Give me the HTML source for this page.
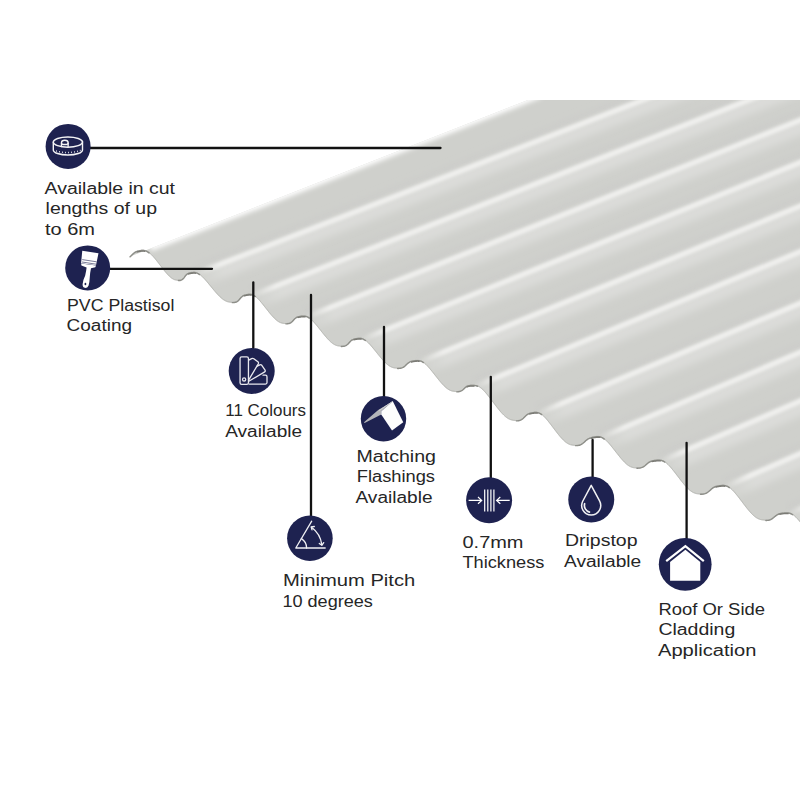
<!DOCTYPE html>
<html><head><meta charset="utf-8"><title>Corrugated PVC sheet</title>
<style>html,body{margin:0;padding:0;background:#fff;width:800px;height:800px;overflow:hidden} svg{display:block}</style>
</head><body>
<svg width="800" height="800" viewBox="0 0 800 800">
<defs>
<filter id="b1" x="-5%" y="-50%" width="110%" height="200%"><feGaussianBlur stdDeviation="1.7"/></filter>
<filter id="b4" x="-5%" y="-50%" width="110%" height="200%"><feGaussianBlur stdDeviation="3.5"/></filter>
<filter id="b3" x="-5%" y="-50%" width="110%" height="200%"><feGaussianBlur stdDeviation="2.6"/></filter>
<filter id="b2" x="-5%" y="-50%" width="110%" height="200%"><feGaussianBlur stdDeviation="2"/></filter>
<linearGradient id="g1" gradientUnits="userSpaceOnUse" x1="195.82" y1="0" x2="219.82" y2="0"><stop offset="0" stop-color="#efefed" stop-opacity="0"/><stop offset="1" stop-color="#efefed"/></linearGradient>
<linearGradient id="h1" gradientUnits="userSpaceOnUse" x1="195.82" y1="0" x2="223.82" y2="0"><stop offset="0" stop-color="#dbdcd9" stop-opacity="0"/><stop offset="1" stop-color="#dbdcd9"/></linearGradient>
<linearGradient id="g2" gradientUnits="userSpaceOnUse" x1="251.72" y1="0" x2="275.72" y2="0"><stop offset="0" stop-color="#efefed" stop-opacity="0"/><stop offset="1" stop-color="#efefed"/></linearGradient>
<linearGradient id="h2" gradientUnits="userSpaceOnUse" x1="251.72" y1="0" x2="279.72" y2="0"><stop offset="0" stop-color="#dbdcd9" stop-opacity="0"/><stop offset="1" stop-color="#dbdcd9"/></linearGradient>
<linearGradient id="g3" gradientUnits="userSpaceOnUse" x1="305.55" y1="0" x2="329.55" y2="0"><stop offset="0" stop-color="#efefed" stop-opacity="0"/><stop offset="1" stop-color="#efefed"/></linearGradient>
<linearGradient id="h3" gradientUnits="userSpaceOnUse" x1="305.55" y1="0" x2="333.55" y2="0"><stop offset="0" stop-color="#dbdcd9" stop-opacity="0"/><stop offset="1" stop-color="#dbdcd9"/></linearGradient>
<linearGradient id="g4" gradientUnits="userSpaceOnUse" x1="361.59" y1="0" x2="385.59" y2="0"><stop offset="0" stop-color="#efefed" stop-opacity="0"/><stop offset="1" stop-color="#efefed"/></linearGradient>
<linearGradient id="h4" gradientUnits="userSpaceOnUse" x1="361.59" y1="0" x2="389.59" y2="0"><stop offset="0" stop-color="#dbdcd9" stop-opacity="0"/><stop offset="1" stop-color="#dbdcd9"/></linearGradient>
<linearGradient id="g5" gradientUnits="userSpaceOnUse" x1="419.52" y1="0" x2="443.52" y2="0"><stop offset="0" stop-color="#efefed" stop-opacity="0"/><stop offset="1" stop-color="#efefed"/></linearGradient>
<linearGradient id="h5" gradientUnits="userSpaceOnUse" x1="419.52" y1="0" x2="447.52" y2="0"><stop offset="0" stop-color="#dbdcd9" stop-opacity="0"/><stop offset="1" stop-color="#dbdcd9"/></linearGradient>
<linearGradient id="g6" gradientUnits="userSpaceOnUse" x1="474.51" y1="0" x2="498.51" y2="0"><stop offset="0" stop-color="#efefed" stop-opacity="0"/><stop offset="1" stop-color="#efefed"/></linearGradient>
<linearGradient id="h6" gradientUnits="userSpaceOnUse" x1="474.51" y1="0" x2="502.51" y2="0"><stop offset="0" stop-color="#dbdcd9" stop-opacity="0"/><stop offset="1" stop-color="#dbdcd9"/></linearGradient>
<linearGradient id="g7" gradientUnits="userSpaceOnUse" x1="537.76" y1="0" x2="561.76" y2="0"><stop offset="0" stop-color="#efefed" stop-opacity="0"/><stop offset="1" stop-color="#efefed"/></linearGradient>
<linearGradient id="h7" gradientUnits="userSpaceOnUse" x1="537.76" y1="0" x2="565.76" y2="0"><stop offset="0" stop-color="#dbdcd9" stop-opacity="0"/><stop offset="1" stop-color="#dbdcd9"/></linearGradient>
<linearGradient id="g8" gradientUnits="userSpaceOnUse" x1="599.91" y1="0" x2="623.91" y2="0"><stop offset="0" stop-color="#efefed" stop-opacity="0"/><stop offset="1" stop-color="#efefed"/></linearGradient>
<linearGradient id="h8" gradientUnits="userSpaceOnUse" x1="599.91" y1="0" x2="627.91" y2="0"><stop offset="0" stop-color="#dbdcd9" stop-opacity="0"/><stop offset="1" stop-color="#dbdcd9"/></linearGradient>
<linearGradient id="g9" gradientUnits="userSpaceOnUse" x1="660.64" y1="0" x2="684.64" y2="0"><stop offset="0" stop-color="#efefed" stop-opacity="0"/><stop offset="1" stop-color="#efefed"/></linearGradient>
<linearGradient id="h9" gradientUnits="userSpaceOnUse" x1="660.64" y1="0" x2="688.64" y2="0"><stop offset="0" stop-color="#dbdcd9" stop-opacity="0"/><stop offset="1" stop-color="#dbdcd9"/></linearGradient>
<linearGradient id="g10" gradientUnits="userSpaceOnUse" x1="725.03" y1="0" x2="749.03" y2="0"><stop offset="0" stop-color="#efefed" stop-opacity="0"/><stop offset="1" stop-color="#efefed"/></linearGradient>
<linearGradient id="h10" gradientUnits="userSpaceOnUse" x1="725.03" y1="0" x2="753.03" y2="0"><stop offset="0" stop-color="#dbdcd9" stop-opacity="0"/><stop offset="1" stop-color="#dbdcd9"/></linearGradient>
<linearGradient id="g11" gradientUnits="userSpaceOnUse" x1="788.42" y1="0" x2="812.42" y2="0"><stop offset="0" stop-color="#efefed" stop-opacity="0"/><stop offset="1" stop-color="#efefed"/></linearGradient>
<linearGradient id="h11" gradientUnits="userSpaceOnUse" x1="788.42" y1="0" x2="816.42" y2="0"><stop offset="0" stop-color="#dbdcd9" stop-opacity="0"/><stop offset="1" stop-color="#dbdcd9"/></linearGradient>
<clipPath id="sheet"><path d="M130.00,256.55 L130.15,256.43 L130.30,256.31 L130.44,256.18 L130.59,256.05 L130.73,255.92 L130.88,255.79 L131.02,255.65 L131.16,255.52 L131.30,255.38 L131.45,255.24 L131.59,255.10 L131.73,254.95 L131.87,254.81 L132.01,254.67 L132.15,254.53 L132.29,254.38 L132.43,254.24 L132.58,254.10 L132.72,253.96 L132.86,253.82 L133.00,253.68 L133.15,253.55 L133.29,253.42 L133.44,253.29 L133.58,253.16 L133.73,253.03 L133.88,252.91 L134.03,252.79 L134.18,252.68 L134.33,252.56 L134.48,252.45 L134.64,252.35 L134.79,252.24 L134.95,252.15 L135.10,252.05 L135.26,251.96 L135.42,251.87 L135.58,251.78 L135.74,251.70 L135.91,251.63 L136.07,251.55 L136.24,251.48 L136.40,251.41 L136.57,251.35 L136.74,251.28 L136.91,251.22 L137.08,251.17 L137.25,251.11 L137.42,251.06 L137.60,251.01 L137.77,250.96 L137.94,250.92 L138.12,250.87 L138.29,250.83 L138.47,250.79 L138.65,250.75 L138.82,250.71 L139.00,250.67 L139.18,250.64 L139.36,250.60 L139.53,250.57 L139.71,250.53 L139.89,250.50 L140.07,250.47 L140.25,250.44 L140.43,250.40 L140.61,250.37 L140.79,250.35 L140.97,250.32 L141.15,250.29 L141.33,250.27 L141.52,250.24 L141.70,250.22 L141.88,250.20 L142.07,250.19 L142.25,250.17 L142.44,250.16 L142.63,250.15 L142.81,250.15 L143.02,250.16 L143.25,250.17 L143.48,250.20 L143.71,250.22 L143.95,250.26 L144.19,250.30 L144.43,250.34 L144.67,250.39 L144.91,250.45 L145.16,250.52 L145.41,250.60 L145.66,250.68 L145.91,250.78 L146.17,250.88 L146.43,250.99 L146.70,251.11 L146.96,251.25 L147.24,251.39 L147.51,251.55 L147.79,251.72 L148.07,251.90 L148.36,252.09 L148.65,252.29 L148.95,252.51 L149.24,252.74 L149.55,252.98 L149.86,253.23 L150.17,253.50 L150.48,253.78 L150.80,254.08 L151.13,254.39 L151.46,254.70 L151.79,255.04 L152.12,255.38 L152.46,255.74 L152.81,256.11 L153.16,256.49 L153.51,256.88 L153.86,257.29 L154.22,257.70 L154.58,258.12 L154.94,258.56 L155.31,259.00 L155.68,259.45 L156.05,259.91 L156.42,260.37 L156.80,260.84 L157.18,261.32 L157.55,261.80 L157.93,262.29 L158.31,262.78 L158.69,263.27 L159.08,263.77 L159.46,264.27 L159.84,264.77 L160.22,265.27 L160.60,265.76 L160.98,266.26 L161.36,266.75 L161.73,267.24 L162.11,267.73 L162.48,268.21 L162.85,268.69 L163.22,269.16 L163.59,269.63 L163.95,270.08 L164.31,270.54 L164.66,270.98 L165.02,271.41 L165.37,271.84 L165.71,272.25 L166.06,272.65 L166.39,273.05 L166.73,273.43 L167.06,273.81 L167.38,274.17 L167.70,274.52 L168.02,274.85 L168.33,275.18 L168.64,275.49 L168.94,275.79 L169.23,276.08 L169.53,276.36 L169.82,276.63 L170.10,276.88 L170.38,277.12 L170.65,277.35 L170.92,277.57 L171.19,277.77 L171.45,277.97 L171.70,278.15 L171.95,278.33 L172.20,278.49 L172.45,278.64 L172.69,278.79 L172.92,278.92 L173.15,279.05 L173.38,279.16 L173.61,279.27 L173.83,279.37 L174.05,279.46 L174.26,279.55 L174.47,279.63 L174.68,279.70 L174.89,279.77 L175.09,279.83 L175.29,279.88 L175.49,279.94 L175.69,279.98 L175.88,280.02 L176.08,280.06 L176.27,280.09 L176.45,280.12 L176.64,280.15 L176.82,280.17 L177.00,280.19 L177.18,280.21 L177.36,280.23 L177.54,280.24 L177.71,280.25 L177.89,280.26 L178.06,280.27 L178.23,280.27 L178.40,280.27 L178.56,280.27 L178.73,280.27 L178.89,280.26 L179.05,280.26 L179.22,280.25 L179.37,280.23 L179.53,280.22 L179.69,280.20 L179.84,280.18 L179.99,280.16 L180.15,280.14 L180.29,280.11 L180.44,280.08 L180.59,280.04 L180.73,280.01 L180.87,279.97 L181.02,279.92 L181.15,279.87 L181.29,279.82 L181.43,279.76 L181.56,279.70 L181.69,279.64 L181.82,279.57 L181.95,279.50 L182.08,279.42 L182.20,279.34 L182.32,279.26 L182.44,279.17 L182.56,279.08 L182.68,278.98 L182.80,278.88 L182.91,278.77 L183.02,278.66 L183.14,278.55 L183.25,278.44 L183.36,278.32 L183.46,278.19 L183.57,278.07 L183.68,277.94 L183.78,277.81 L183.88,277.68 L183.99,277.54 L184.09,277.40 L184.19,277.27 L184.29,277.13 L184.39,276.99 L184.49,276.84 L184.59,276.70 L184.69,276.56 L184.80,276.42 L184.90,276.28 L185.00,276.14 L185.10,276.00 L185.20,275.86 L185.31,275.72 L185.41,275.59 L185.52,275.45 L185.62,275.32 L185.73,275.19 L185.84,275.07 L185.95,274.94 L186.06,274.82 L186.17,274.71 L186.28,274.59 L186.40,274.48 L186.52,274.37 L186.63,274.27 L186.75,274.17 L186.88,274.07 L187.00,273.98 L187.12,273.89 L187.25,273.81 L187.38,273.72 L187.51,273.65 L187.64,273.57 L187.78,273.50 L187.91,273.43 L188.05,273.37 L188.19,273.30 L188.33,273.24 L188.47,273.19 L188.62,273.13 L188.76,273.08 L188.91,273.03 L189.06,272.99 L189.21,272.94 L189.36,272.90 L189.52,272.86 L189.67,272.82 L189.83,272.78 L189.98,272.74 L190.14,272.71 L190.30,272.68 L190.46,272.64 L190.63,272.61 L190.79,272.58 L190.96,272.55 L191.12,272.52 L191.29,272.49 L191.46,272.46 L191.63,272.44 L191.80,272.41 L191.98,272.39 L192.15,272.36 L192.33,272.34 L192.51,272.32 L192.69,272.30 L192.87,272.29 L193.06,272.27 L193.25,272.26 L193.43,272.25 L193.63,272.25 L193.82,272.24 L194.02,272.25 L194.22,272.25 L194.42,272.26 L194.63,272.28 L194.83,272.30 L195.05,272.33 L195.26,272.36 L195.48,272.40 L195.70,272.45 L195.93,272.51 L196.16,272.57 L196.39,272.64 L196.63,272.72 L196.88,272.81 L197.12,272.91 L197.38,273.02 L197.63,273.15 L197.89,273.28 L198.16,273.42 L198.43,273.58 L198.71,273.74 L198.99,273.92 L199.27,274.11 L199.56,274.32 L199.86,274.54 L200.16,274.77 L200.47,275.01 L200.78,275.27 L201.10,275.54 L201.42,275.82 L201.75,276.12 L202.08,276.43 L202.42,276.75 L202.77,277.09 L203.11,277.44 L203.47,277.80 L203.83,278.17 L204.19,278.56 L204.56,278.95 L204.93,279.36 L205.30,279.78 L205.68,280.20 L206.06,280.64 L206.45,281.09 L206.84,281.54 L207.23,282.00 L207.63,282.47 L208.03,282.95 L208.43,283.43 L208.83,283.92 L209.23,284.41 L209.64,284.90 L210.04,285.40 L210.45,285.90 L210.86,286.40 L211.27,286.90 L211.68,287.40 L212.09,287.90 L212.50,288.40 L212.90,288.90 L213.31,289.39 L213.72,289.88 L214.12,290.36 L214.52,290.84 L214.92,291.31 L215.32,291.78 L215.72,292.24 L216.11,292.69 L216.50,293.13 L216.89,293.56 L217.27,293.99 L217.65,294.40 L218.03,294.80 L218.40,295.20 L218.77,295.58 L219.13,295.95 L219.49,296.31 L219.85,296.66 L220.20,296.99 L220.55,297.32 L220.89,297.63 L221.23,297.93 L221.57,298.21 L221.90,298.49 L222.22,298.75 L222.54,299.00 L222.86,299.24 L223.17,299.47 L223.48,299.68 L223.78,299.88 L224.08,300.08 L224.38,300.26 L224.67,300.43 L224.96,300.59 L225.24,300.74 L225.52,300.88 L225.79,301.01 L226.06,301.13 L226.33,301.25 L226.60,301.35 L226.86,301.45 L227.11,301.54 L227.37,301.63 L227.62,301.70 L227.87,301.77 L228.11,301.84 L228.36,301.90 L228.60,301.95 L228.84,302.00 L229.07,302.04 L229.30,302.08 L229.53,302.12 L229.76,302.15 L229.99,302.18 L230.21,302.21 L230.43,302.23 L230.65,302.25 L230.87,302.27 L231.09,302.28 L231.30,302.29 L231.51,302.30 L231.72,302.31 L231.93,302.32 L232.14,302.32 L232.34,302.32 L232.54,302.32 L232.74,302.32 L232.94,302.31 L233.14,302.31 L233.33,302.30 L233.52,302.28 L233.71,302.27 L233.90,302.25 L234.09,302.23 L234.28,302.21 L234.46,302.18 L234.64,302.16 L234.82,302.12 L234.99,302.09 L235.17,302.05 L235.34,302.01 L235.51,301.96 L235.68,301.91 L235.85,301.86 L236.01,301.80 L236.17,301.74 L236.33,301.67 L236.49,301.60 L236.64,301.53 L236.80,301.45 L236.95,301.37 L237.10,301.28 L237.24,301.19 L237.39,301.10 L237.53,301.00 L237.67,300.90 L237.81,300.79 L237.95,300.68 L238.08,300.56 L238.22,300.45 L238.35,300.33 L238.48,300.20 L238.61,300.07 L238.73,299.94 L238.86,299.81 L238.98,299.68 L239.11,299.54 L239.23,299.40 L239.35,299.26 L239.47,299.12 L239.59,298.98 L239.71,298.83 L239.83,298.69 L239.95,298.55 L240.07,298.40 L240.19,298.26 L240.31,298.12 L240.43,297.98 L240.55,297.84 L240.67,297.70 L240.79,297.56 L240.91,297.43 L241.03,297.30 L241.15,297.17 L241.28,297.04 L241.40,296.92 L241.53,296.80 L241.65,296.68 L241.78,296.56 L241.91,296.45 L242.04,296.34 L242.17,296.24 L242.30,296.14 L242.43,296.04 L242.57,295.95 L242.70,295.86 L242.84,295.77 L242.98,295.69 L243.12,295.61 L243.26,295.53 L243.41,295.46 L243.55,295.39 L243.70,295.32 L243.84,295.26 L243.99,295.20 L244.14,295.14 L244.29,295.08 L244.44,295.03 L244.60,294.98 L244.75,294.93 L244.91,294.88 L245.06,294.84 L245.22,294.79 L245.38,294.75 L245.54,294.71 L245.70,294.67 L245.86,294.63 L246.02,294.59 L246.18,294.56 L246.35,294.52 L246.51,294.49 L246.68,294.45 L246.85,294.42 L247.01,294.39 L247.18,294.35 L247.35,294.32 L247.52,294.29 L247.70,294.26 L247.87,294.24 L248.04,294.21 L248.22,294.18 L248.40,294.16 L248.58,294.14 L248.76,294.12 L248.94,294.11 L249.12,294.09 L249.31,294.08 L249.50,294.08 L249.69,294.07 L249.88,294.07 L250.08,294.08 L250.28,294.09 L250.48,294.11 L250.68,294.13 L250.89,294.16 L251.10,294.20 L251.31,294.24 L251.53,294.29 L251.75,294.35 L251.98,294.42 L252.20,294.50 L252.44,294.58 L252.67,294.68 L252.92,294.79 L253.16,294.91 L253.41,295.04 L253.66,295.18 L253.92,295.33 L254.19,295.49 L254.46,295.67 L254.73,295.86 L255.01,296.06 L255.29,296.28 L255.58,296.51 L255.88,296.75 L256.17,297.01 L256.48,297.28 L256.79,297.56 L257.10,297.86 L257.42,298.16 L257.74,298.49 L258.07,298.82 L258.41,299.17 L258.74,299.53 L259.09,299.90 L259.43,300.29 L259.79,300.68 L260.14,301.09 L260.50,301.50 L260.86,301.93 L261.23,302.37 L261.60,302.81 L261.97,303.27 L262.35,303.73 L262.73,304.19 L263.11,304.67 L263.49,305.15 L263.87,305.63 L264.26,306.12 L264.65,306.61 L265.04,307.11 L265.43,307.60 L265.81,308.10 L266.21,308.60 L266.60,309.10 L266.99,309.59 L267.37,310.08 L267.76,310.58 L268.15,311.06 L268.54,311.55 L268.92,312.02 L269.30,312.50 L269.68,312.96 L270.06,313.42 L270.44,313.88 L270.81,314.32 L271.18,314.75 L271.54,315.18 L271.91,315.60 L272.27,316.00 L272.62,316.40 L272.97,316.78 L273.32,317.16 L273.67,317.52 L274.01,317.87 L274.34,318.21 L274.67,318.53 L275.00,318.85 L275.32,319.15 L275.64,319.44 L275.96,319.72 L276.27,319.98 L276.57,320.24 L276.87,320.48 L277.17,320.71 L277.46,320.92 L277.75,321.13 L278.03,321.32 L278.31,321.50 L278.59,321.68 L278.86,321.84 L279.13,321.99 L279.39,322.13 L279.65,322.26 L279.91,322.39 L280.16,322.50 L280.41,322.61 L280.65,322.70 L280.90,322.79 L281.14,322.88 L281.38,322.95 L281.61,323.02 L281.84,323.09 L282.07,323.14 L282.30,323.20 L282.52,323.24 L282.75,323.29 L282.97,323.33 L283.18,323.36 L283.40,323.39 L283.61,323.42 L283.83,323.44 L284.04,323.46 L284.25,323.48 L284.45,323.50 L284.66,323.51 L284.86,323.52 L285.06,323.53 L285.26,323.54 L285.46,323.54 L285.66,323.54 L285.86,323.54 L286.05,323.54 L286.25,323.54 L286.44,323.54 L286.63,323.53 L286.81,323.52 L287.00,323.51 L287.19,323.49 L287.37,323.48 L287.55,323.46 L287.73,323.44 L287.91,323.42 L288.09,323.39 L288.26,323.36 L288.44,323.33 L288.61,323.29 L288.78,323.25 L288.95,323.21 L289.11,323.17 L289.28,323.12 L289.44,323.06 L289.60,323.01 L289.76,322.94 L289.92,322.88 L290.07,322.81 L290.23,322.74 L290.38,322.66 L290.53,322.58 L290.68,322.49 L290.82,322.40 L290.97,322.31 L291.11,322.21 L291.25,322.11 L291.39,322.00 L291.53,321.90 L291.66,321.78 L291.80,321.67 L291.93,321.55 L292.06,321.43 L292.19,321.30 L292.32,321.17 L292.45,321.04 L292.58,320.91 L292.70,320.78 L292.83,320.64 L292.96,320.51 L293.08,320.37 L293.20,320.23 L293.33,320.09 L293.45,319.95 L293.58,319.81 L293.70,319.68 L293.83,319.54 L293.95,319.40 L294.07,319.26 L294.20,319.13 L294.33,319.00 L294.45,318.87 L294.58,318.74 L294.71,318.61 L294.84,318.49 L294.97,318.37 L295.10,318.25 L295.23,318.14 L295.37,318.03 L295.50,317.92 L295.64,317.82 L295.78,317.72 L295.92,317.62 L296.06,317.53 L296.20,317.44 L296.34,317.35 L296.49,317.27 L296.64,317.19 L296.79,317.12 L296.94,317.05 L297.09,316.98 L297.24,316.91 L297.39,316.85 L297.55,316.79 L297.71,316.74 L297.87,316.69 L298.03,316.64 L298.19,316.59 L298.35,316.54 L298.51,316.50 L298.68,316.46 L298.85,316.42 L299.01,316.39 L299.18,316.35 L299.35,316.32 L299.52,316.28 L299.69,316.25 L299.87,316.22 L300.04,316.19 L300.22,316.16 L300.39,316.14 L300.57,316.11 L300.75,316.08 L300.92,316.06 L301.10,316.03 L301.28,316.01 L301.47,315.98 L301.65,315.96 L301.83,315.94 L302.02,315.92 L302.20,315.90 L302.39,315.89 L302.58,315.87 L302.77,315.86 L302.97,315.85 L303.16,315.84 L303.36,315.84 L303.56,315.83 L303.76,315.84 L303.96,315.84 L304.17,315.85 L304.37,315.87 L304.58,315.89 L304.80,315.91 L305.02,315.95 L305.24,315.99 L305.46,316.03 L305.69,316.09 L305.92,316.15 L306.15,316.22 L306.39,316.30 L306.63,316.39 L306.87,316.48 L307.12,316.59 L307.38,316.71 L307.64,316.84 L307.90,316.98 L308.17,317.14 L308.44,317.30 L308.72,317.48 L309.00,317.67 L309.29,317.87 L309.58,318.09 L309.88,318.32 L310.18,318.56 L310.49,318.82 L310.80,319.08 L311.12,319.37 L311.44,319.66 L311.77,319.97 L312.10,320.30 L312.44,320.63 L312.78,320.98 L313.13,321.35 L313.48,321.72 L313.84,322.11 L314.20,322.50 L314.56,322.91 L314.93,323.33 L315.30,323.77 L315.68,324.21 L316.06,324.66 L316.44,325.11 L316.83,325.58 L317.22,326.05 L317.61,326.54 L318.00,327.02 L318.40,327.51 L318.80,328.01 L319.19,328.51 L319.59,329.01 L320.00,329.52 L320.40,330.03 L320.80,330.54 L321.20,331.04 L321.60,331.55 L322.00,332.06 L322.41,332.56 L322.81,333.06 L323.20,333.56 L323.60,334.05 L324.00,334.53 L324.39,335.01 L324.78,335.49 L325.17,335.95 L325.55,336.41 L325.94,336.86 L326.32,337.30 L326.69,337.73 L327.06,338.15 L327.43,338.56 L327.80,338.96 L328.16,339.35 L328.52,339.73 L328.87,340.10 L329.22,340.45 L329.56,340.79 L329.90,341.12 L330.24,341.44 L330.57,341.74 L330.90,342.03 L331.22,342.31 L331.54,342.58 L331.85,342.83 L332.16,343.07 L332.46,343.30 L332.76,343.52 L333.06,343.73 L333.35,343.92 L333.63,344.10 L333.92,344.28 L334.20,344.44 L334.47,344.59 L334.74,344.73 L335.01,344.86 L335.27,344.99 L335.53,345.10 L335.79,345.21 L336.04,345.30 L336.29,345.39 L336.54,345.48 L336.78,345.55 L337.02,345.62 L337.26,345.69 L337.50,345.74 L337.73,345.80 L337.96,345.84 L338.19,345.89 L338.42,345.92 L338.64,345.96 L338.87,345.99 L339.09,346.02 L339.30,346.04 L339.52,346.06 L339.74,346.08 L339.95,346.10 L340.16,346.11 L340.37,346.12 L340.58,346.13 L340.79,346.14 L340.99,346.14 L341.19,346.14 L341.40,346.14 L341.60,346.14 L341.79,346.14 L341.99,346.13 L342.19,346.12 L342.38,346.11 L342.57,346.10 L342.76,346.09 L342.95,346.07 L343.14,346.05 L343.32,346.03 L343.51,346.00 L343.69,345.98 L343.87,345.95 L344.04,345.91 L344.22,345.87 L344.40,345.83 L344.57,345.79 L344.74,345.74 L344.91,345.69 L345.07,345.63 L345.24,345.57 L345.40,345.51 L345.56,345.44 L345.72,345.37 L345.88,345.29 L346.03,345.21 L346.18,345.13 L346.33,345.04 L346.48,344.95 L346.63,344.85 L346.78,344.75 L346.92,344.64 L347.06,344.53 L347.20,344.42 L347.34,344.30 L347.48,344.18 L347.61,344.06 L347.75,343.93 L347.88,343.81 L348.01,343.67 L348.14,343.54 L348.27,343.41 L348.40,343.27 L348.53,343.13 L348.66,342.99 L348.79,342.85 L348.91,342.71 L349.04,342.56 L349.17,342.42 L349.29,342.28 L349.42,342.14 L349.55,341.99 L349.67,341.85 L349.80,341.72 L349.93,341.58 L350.06,341.44 L350.19,341.31 L350.32,341.18 L350.45,341.05 L350.58,340.92 L350.71,340.80 L350.85,340.68 L350.98,340.56 L351.12,340.45 L351.25,340.34 L351.39,340.23 L351.53,340.13 L351.68,340.03 L351.82,339.94 L351.96,339.84 L352.11,339.76 L352.26,339.67 L352.41,339.59 L352.56,339.51 L352.71,339.44 L352.86,339.37 L353.02,339.30 L353.18,339.24 L353.33,339.18 L353.49,339.12 L353.66,339.06 L353.82,339.01 L353.98,338.96 L354.15,338.91 L354.31,338.87 L354.48,338.82 L354.65,338.78 L354.82,338.74 L354.99,338.70 L355.16,338.66 L355.33,338.63 L355.50,338.59 L355.68,338.56 L355.85,338.52 L356.03,338.49 L356.21,338.46 L356.39,338.43 L356.57,338.39 L356.75,338.36 L356.93,338.34 L357.11,338.31 L357.29,338.28 L357.48,338.25 L357.66,338.23 L357.85,338.20 L358.04,338.18 L358.23,338.16 L358.42,338.14 L358.61,338.12 L358.81,338.11 L359.01,338.10 L359.20,338.09 L359.40,338.08 L359.61,338.08 L359.81,338.08 L360.02,338.09 L360.23,338.10 L360.45,338.12 L360.66,338.14 L360.88,338.17 L361.10,338.21 L361.33,338.25 L361.56,338.31 L361.79,338.37 L362.03,338.43 L362.27,338.51 L362.51,338.60 L362.76,338.70 L363.02,338.80 L363.27,338.92 L363.54,339.05 L363.80,339.19 L364.08,339.35 L364.35,339.51 L364.63,339.69 L364.92,339.88 L365.21,340.09 L365.51,340.31 L365.81,340.54 L366.12,340.78 L366.43,341.04 L366.75,341.31 L367.07,341.60 L367.40,341.90 L367.73,342.21 L368.07,342.54 L368.41,342.87 L368.76,343.23 L369.11,343.59 L369.47,343.97 L369.83,344.36 L370.19,344.76 L370.56,345.17 L370.94,345.60 L371.32,346.03 L371.70,346.47 L372.08,346.93 L372.47,347.39 L372.86,347.86 L373.26,348.33 L373.66,348.82 L374.05,349.31 L374.46,349.80 L374.86,350.30 L375.26,350.80 L375.67,351.31 L376.08,351.81 L376.48,352.32 L376.89,352.83 L377.30,353.34 L377.71,353.85 L378.11,354.35 L378.52,354.85 L378.92,355.35 L379.33,355.85 L379.73,356.34 L380.13,356.82 L380.53,357.30 L380.92,357.77 L381.32,358.23 L381.71,358.69 L382.10,359.14 L382.48,359.57 L382.86,360.00 L383.24,360.42 L383.61,360.83 L383.98,361.22 L384.35,361.61 L384.71,361.98 L385.07,362.34 L385.43,362.69 L385.78,363.02 L386.12,363.35 L386.46,363.66 L386.80,363.95 L387.13,364.24 L387.46,364.51 L387.78,364.77 L388.10,365.02 L388.42,365.26 L388.73,365.48 L389.03,365.69 L389.33,365.89 L389.63,366.08 L389.92,366.26 L390.21,366.42 L390.50,366.58 L390.78,366.73 L391.06,366.86 L391.33,366.99 L391.60,367.10 L391.87,367.21 L392.13,367.31 L392.39,367.40 L392.65,367.49 L392.91,367.57 L393.16,367.64 L393.41,367.70 L393.66,367.76 L393.90,367.81 L394.14,367.86 L394.38,367.90 L394.62,367.94 L394.86,367.98 L395.09,368.01 L395.33,368.04 L395.56,368.06 L395.79,368.08 L396.01,368.10 L396.24,368.11 L396.46,368.12 L396.69,368.13 L396.91,368.14 L397.13,368.15 L397.34,368.15 L397.56,368.15 L397.78,368.15 L397.99,368.15 L398.20,368.15 L398.41,368.14 L398.62,368.14 L398.83,368.13 L399.04,368.11 L399.24,368.10 L399.45,368.08 L399.65,368.06 L399.85,368.04 L400.05,368.02 L400.24,367.99 L400.44,367.96 L400.63,367.93 L400.83,367.89 L401.02,367.86 L401.21,367.81 L401.39,367.77 L401.58,367.72 L401.76,367.66 L401.94,367.61 L402.12,367.54 L402.30,367.48 L402.47,367.41 L402.65,367.33 L402.82,367.26 L402.99,367.17 L403.16,367.09 L403.32,367.00 L403.49,366.90 L403.65,366.80 L403.81,366.70 L403.97,366.60 L404.13,366.49 L404.28,366.37 L404.44,366.25 L404.59,366.13 L404.74,366.01 L404.89,365.88 L405.04,365.75 L405.19,365.62 L405.34,365.49 L405.49,365.35 L405.63,365.22 L405.78,365.08 L405.92,364.94 L406.06,364.80 L406.21,364.65 L406.35,364.51 L406.49,364.37 L406.64,364.23 L406.78,364.09 L406.92,363.95 L407.07,363.81 L407.21,363.67 L407.36,363.54 L407.50,363.41 L407.65,363.28 L407.79,363.15 L407.94,363.02 L408.09,362.90 L408.24,362.78 L408.39,362.66 L408.54,362.55 L408.70,362.44 L408.85,362.33 L409.01,362.23 L409.16,362.13 L409.32,362.03 L409.48,361.94 L409.64,361.86 L409.81,361.77 L409.97,361.69 L410.14,361.61 L410.30,361.54 L410.47,361.47 L410.64,361.41 L410.81,361.34 L410.99,361.28 L411.16,361.23 L411.33,361.17 L411.51,361.12 L411.69,361.08 L411.87,361.03 L412.05,360.99 L412.23,360.95 L412.41,360.91 L412.59,360.87 L412.78,360.83 L412.96,360.80 L413.15,360.77 L413.34,360.73 L413.52,360.70 L413.71,360.67 L413.90,360.64 L414.09,360.62 L414.28,360.59 L414.48,360.56 L414.67,360.54 L414.86,360.51 L415.06,360.49 L415.25,360.46 L415.45,360.44 L415.64,360.42 L415.84,360.40 L416.04,360.38 L416.24,360.36 L416.44,360.35 L416.64,360.33 L416.85,360.32 L417.06,360.31 L417.26,360.31 L417.47,360.31 L417.68,360.31 L417.90,360.31 L418.11,360.32 L418.33,360.34 L418.55,360.36 L418.78,360.38 L419.00,360.41 L419.23,360.45 L419.46,360.49 L419.70,360.55 L419.94,360.61 L420.18,360.68 L420.42,360.75 L420.67,360.84 L420.93,360.94 L421.18,361.05 L421.45,361.16 L421.71,361.29 L421.98,361.43 L422.26,361.59 L422.54,361.75 L422.82,361.93 L423.11,362.12 L423.40,362.33 L423.70,362.54 L424.01,362.77 L424.32,363.02 L424.63,363.28 L424.95,363.55 L425.27,363.83 L425.60,364.13 L425.94,364.45 L426.28,364.77 L426.62,365.12 L426.97,365.47 L427.32,365.84 L427.68,366.22 L428.04,366.61 L428.41,367.01 L428.78,367.43 L429.16,367.86 L429.53,368.30 L429.92,368.74 L430.30,369.20 L430.69,369.67 L431.09,370.15 L431.48,370.63 L431.88,371.12 L432.28,371.62 L432.68,372.12 L433.08,372.63 L433.49,373.14 L433.90,373.66 L434.30,374.17 L434.71,374.69 L435.12,375.22 L435.53,375.74 L435.94,376.26 L436.35,376.78 L436.76,377.29 L437.16,377.81 L437.57,378.32 L437.97,378.82 L438.37,379.32 L438.77,379.82 L439.17,380.31 L439.56,380.79 L439.96,381.26 L440.35,381.72 L440.73,382.18 L441.11,382.62 L441.49,383.06 L441.87,383.49 L442.24,383.90 L442.61,384.30 L442.97,384.69 L443.33,385.07 L443.68,385.44 L444.03,385.79 L444.38,386.14 L444.72,386.47 L445.06,386.78 L445.39,387.09 L445.72,387.38 L446.04,387.66 L446.36,387.92 L446.67,388.17 L446.98,388.42 L447.29,388.64 L447.59,388.86 L447.88,389.06 L448.17,389.26 L448.46,389.44 L448.74,389.61 L449.02,389.77 L449.30,389.92 L449.57,390.06 L449.84,390.19 L450.10,390.32 L450.36,390.43 L450.62,390.54 L450.88,390.63 L451.13,390.72 L451.37,390.81 L451.62,390.88 L451.86,390.95 L452.10,391.02 L452.34,391.08 L452.58,391.13 L452.81,391.18 L453.04,391.22 L453.27,391.26 L453.50,391.30 L453.72,391.33 L453.95,391.36 L454.17,391.39 L454.39,391.41 L454.60,391.44 L454.82,391.46 L455.04,391.47 L455.25,391.49 L455.46,391.50 L455.67,391.51 L455.88,391.52 L456.09,391.53 L456.30,391.53 L456.50,391.53 L456.70,391.54 L456.90,391.53 L457.10,391.53 L457.30,391.53 L457.50,391.52 L457.70,391.51 L457.89,391.50 L458.08,391.48 L458.27,391.47 L458.46,391.45 L458.65,391.42 L458.83,391.40 L459.02,391.37 L459.20,391.34 L459.38,391.30 L459.56,391.26 L459.73,391.22 L459.91,391.17 L460.08,391.12 L460.25,391.07 L460.42,391.01 L460.59,390.94 L460.75,390.88 L460.91,390.81 L461.07,390.73 L461.23,390.65 L461.39,390.57 L461.55,390.48 L461.70,390.39 L461.85,390.29 L462.00,390.19 L462.15,390.09 L462.30,389.99 L462.44,389.88 L462.59,389.76 L462.73,389.65 L462.87,389.53 L463.01,389.41 L463.15,389.29 L463.29,389.16 L463.43,389.04 L463.57,388.91 L463.71,388.78 L463.84,388.65 L463.98,388.52 L464.11,388.39 L464.25,388.26 L464.38,388.13 L464.52,388.00 L464.66,387.87 L464.79,387.74 L464.93,387.61 L465.07,387.49 L465.20,387.37 L465.34,387.25 L465.48,387.13 L465.62,387.01 L465.76,386.90 L465.90,386.79 L466.05,386.69 L466.19,386.58 L466.34,386.49 L466.49,386.39 L466.64,386.30 L466.79,386.21 L466.94,386.13 L467.09,386.05 L467.25,385.98 L467.40,385.91 L467.56,385.84 L467.72,385.78 L467.88,385.72 L468.05,385.67 L468.21,385.61 L468.38,385.57 L468.54,385.52 L468.71,385.48 L468.88,385.45 L469.06,385.41 L469.23,385.38 L469.40,385.36 L469.58,385.33 L469.76,385.31 L469.94,385.29 L470.12,385.27 L470.30,385.25 L470.48,385.24 L470.66,385.23 L470.85,385.22 L471.03,385.21 L471.22,385.20 L471.40,385.19 L471.59,385.19 L471.78,385.18 L471.97,385.18 L472.16,385.17 L472.36,385.17 L472.55,385.17 L472.74,385.17 L472.94,385.18 L473.13,385.18 L473.33,385.18 L473.53,385.19 L473.73,385.20 L473.93,385.21 L474.14,385.22 L474.34,385.23 L474.55,385.25 L474.76,385.27 L474.97,385.30 L475.18,385.32 L475.40,385.36 L475.61,385.39 L475.83,385.43 L476.05,385.48 L476.28,385.53 L476.51,385.59 L476.74,385.66 L476.97,385.73 L477.21,385.81 L477.45,385.90 L477.70,385.99 L477.95,386.10 L478.20,386.21 L478.45,386.34 L478.72,386.47 L478.98,386.62 L479.25,386.78 L479.52,386.95 L479.80,387.13 L480.09,387.32 L480.38,387.53 L480.67,387.75 L480.97,387.98 L481.27,388.23 L481.58,388.49 L481.89,388.76 L482.21,389.05 L482.54,389.35 L482.87,389.67 L483.20,390.00 L483.55,390.34 L483.89,390.70 L484.24,391.07 L484.60,391.46 L484.96,391.86 L485.33,392.27 L485.70,392.69 L486.07,393.13 L486.45,393.58 L486.84,394.04 L487.23,394.52 L487.62,395.00 L488.01,395.50 L488.41,396.00 L488.82,396.51 L489.22,397.03 L489.63,397.56 L490.05,398.10 L490.46,398.64 L490.88,399.19 L491.30,399.74 L491.72,400.29 L492.14,400.85 L492.56,401.41 L492.98,401.98 L493.41,402.54 L493.83,403.10 L494.25,403.66 L494.68,404.22 L495.10,404.78 L495.52,405.34 L495.94,405.88 L496.36,406.43 L496.77,406.97 L497.19,407.50 L497.60,408.03 L498.01,408.54 L498.42,409.05 L498.82,409.55 L499.22,410.04 L499.62,410.52 L500.01,410.99 L500.40,411.45 L500.79,411.90 L501.17,412.33 L501.55,412.76 L501.93,413.17 L502.30,413.56 L502.66,413.95 L503.02,414.32 L503.38,414.68 L503.73,415.03 L504.08,415.36 L504.42,415.68 L504.76,415.98 L505.09,416.27 L505.42,416.55 L505.74,416.82 L506.07,417.07 L506.38,417.32 L506.69,417.54 L507.00,417.76 L507.30,417.97 L507.60,418.16 L507.90,418.34 L508.19,418.52 L508.48,418.68 L508.76,418.83 L509.04,418.97 L509.32,419.11 L509.59,419.23 L509.86,419.35 L510.13,419.46 L510.40,419.56 L510.66,419.66 L510.92,419.74 L511.17,419.82 L511.43,419.90 L511.68,419.97 L511.93,420.03 L512.18,420.09 L512.43,420.15 L512.67,420.20 L512.91,420.25 L513.15,420.29 L513.39,420.33 L513.63,420.37 L513.87,420.40 L514.10,420.43 L514.33,420.45 L514.57,420.48 L514.80,420.50 L515.02,420.52 L515.25,420.53 L515.48,420.55 L515.70,420.56 L515.92,420.57 L516.14,420.57 L516.36,420.58 L516.58,420.58 L516.80,420.57 L517.01,420.57 L517.23,420.56 L517.44,420.55 L517.65,420.53 L517.86,420.51 L518.06,420.49 L518.27,420.46 L518.47,420.43 L518.67,420.40 L518.87,420.36 L519.07,420.32 L519.27,420.28 L519.46,420.23 L519.65,420.17 L519.84,420.11 L520.03,420.05 L520.22,419.98 L520.40,419.91 L520.58,419.83 L520.76,419.74 L520.94,419.66 L521.12,419.56 L521.29,419.47 L521.46,419.37 L521.63,419.26 L521.80,419.15 L521.97,419.04 L522.13,418.92 L522.30,418.80 L522.46,418.67 L522.62,418.54 L522.78,418.41 L522.94,418.27 L523.09,418.13 L523.25,417.99 L523.40,417.85 L523.56,417.70 L523.71,417.55 L523.86,417.40 L524.01,417.25 L524.16,417.10 L524.31,416.95 L524.46,416.80 L524.61,416.64 L524.76,416.49 L524.91,416.34 L525.07,416.19 L525.22,416.04 L525.37,415.90 L525.52,415.75 L525.67,415.61 L525.82,415.47 L525.98,415.33 L526.13,415.19 L526.29,415.06 L526.45,414.93 L526.60,414.81 L526.76,414.68 L526.92,414.56 L527.08,414.45 L527.25,414.34 L527.41,414.23 L527.58,414.13 L527.74,414.03 L527.91,413.93 L528.08,413.84 L528.25,413.75 L528.42,413.66 L528.60,413.58 L528.77,413.51 L528.95,413.43 L529.12,413.36 L529.30,413.30 L529.48,413.23 L529.66,413.17 L529.85,413.11 L530.03,413.06 L530.21,413.01 L530.40,412.96 L530.58,412.91 L530.77,412.86 L530.96,412.82 L531.15,412.77 L531.34,412.73 L531.53,412.69 L531.72,412.66 L531.91,412.62 L532.10,412.58 L532.29,412.55 L532.49,412.52 L532.68,412.48 L532.88,412.45 L533.07,412.42 L533.27,412.39 L533.46,412.37 L533.66,412.34 L533.86,412.31 L534.06,412.29 L534.26,412.27 L534.46,412.25 L534.66,412.23 L534.87,412.21 L535.07,412.20 L535.28,412.19 L535.49,412.19 L535.70,412.18 L535.91,412.18 L536.12,412.19 L536.34,412.20 L536.55,412.21 L536.77,412.23 L537.00,412.26 L537.22,412.30 L537.45,412.34 L537.68,412.38 L537.91,412.44 L538.15,412.50 L538.39,412.58 L538.64,412.66 L538.88,412.75 L539.13,412.86 L539.39,412.97 L539.65,413.10 L539.91,413.23 L540.18,413.38 L540.46,413.54 L540.73,413.72 L541.02,413.91 L541.30,414.11 L541.59,414.32 L541.89,414.55 L542.19,414.79 L542.50,415.05 L542.81,415.32 L543.13,415.60 L543.45,415.90 L543.78,416.22 L544.11,416.55 L544.45,416.89 L544.80,417.25 L545.14,417.62 L545.50,418.00 L545.85,418.40 L546.22,418.81 L546.58,419.23 L546.95,419.67 L547.33,420.12 L547.71,420.58 L548.09,421.05 L548.48,421.53 L548.87,422.02 L549.26,422.52 L549.66,423.02 L550.06,423.54 L550.46,424.06 L550.87,424.59 L551.27,425.12 L551.68,425.66 L552.09,426.20 L552.50,426.75 L552.91,427.29 L553.33,427.84 L553.74,428.39 L554.15,428.94 L554.56,429.48 L554.98,430.03 L555.39,430.57 L555.80,431.11 L556.21,431.64 L556.61,432.17 L557.02,432.70 L557.42,433.21 L557.82,433.72 L558.22,434.22 L558.61,434.71 L559.01,435.20 L559.40,435.67 L559.78,436.13 L560.16,436.59 L560.54,437.03 L560.92,437.46 L561.29,437.88 L561.65,438.28 L562.02,438.67 L562.37,439.05 L562.73,439.42 L563.08,439.78 L563.42,440.12 L563.76,440.44 L564.10,440.76 L564.43,441.06 L564.76,441.35 L565.08,441.62 L565.40,441.88 L565.71,442.13 L566.02,442.37 L566.33,442.59 L566.63,442.81 L566.93,443.01 L567.22,443.19 L567.51,443.37 L567.80,443.54 L568.08,443.70 L568.36,443.84 L568.64,443.98 L568.91,444.11 L569.18,444.22 L569.45,444.33 L569.71,444.44 L569.97,444.53 L570.23,444.62 L570.49,444.70 L570.74,444.77 L571.00,444.84 L571.25,444.90 L571.49,444.96 L571.74,445.01 L571.99,445.06 L572.23,445.10 L572.47,445.14 L572.71,445.18 L572.95,445.21 L573.19,445.24 L573.43,445.26 L573.66,445.28 L573.90,445.30 L574.13,445.32 L574.36,445.34 L574.59,445.35 L574.82,445.36 L575.05,445.36 L575.28,445.37 L575.51,445.37 L575.73,445.37 L575.96,445.37 L576.18,445.36 L576.41,445.35 L576.63,445.34 L576.85,445.33 L577.07,445.31 L577.29,445.29 L577.50,445.27 L577.72,445.25 L577.93,445.22 L578.15,445.18 L578.36,445.15 L578.57,445.11 L578.78,445.06 L578.99,445.01 L579.19,444.96 L579.40,444.90 L579.60,444.84 L579.80,444.78 L580.00,444.71 L580.20,444.63 L580.39,444.55 L580.59,444.47 L580.78,444.38 L580.97,444.29 L581.16,444.19 L581.35,444.09 L581.54,443.98 L581.72,443.87 L581.90,443.75 L582.09,443.63 L582.27,443.51 L582.44,443.38 L582.62,443.25 L582.80,443.11 L582.97,442.98 L583.15,442.84 L583.32,442.69 L583.49,442.54 L583.66,442.40 L583.84,442.25 L584.01,442.09 L584.18,441.94 L584.34,441.79 L584.51,441.63 L584.68,441.47 L584.85,441.32 L585.02,441.16 L585.19,441.01 L585.36,440.85 L585.53,440.70 L585.70,440.55 L585.87,440.40 L586.04,440.25 L586.21,440.10 L586.39,439.96 L586.56,439.82 L586.74,439.68 L586.91,439.55 L587.09,439.41 L587.27,439.28 L587.45,439.16 L587.63,439.04 L587.81,438.92 L587.99,438.81 L588.18,438.70 L588.37,438.59 L588.55,438.49 L588.74,438.39 L588.93,438.29 L589.12,438.20 L589.32,438.11 L589.51,438.03 L589.71,437.95 L589.91,437.87 L590.10,437.80 L590.30,437.73 L590.50,437.66 L590.71,437.60 L590.91,437.53 L591.11,437.48 L591.32,437.42 L591.52,437.36 L591.73,437.31 L591.94,437.26 L592.14,437.21 L592.35,437.16 L592.56,437.11 L592.77,437.07 L592.98,437.02 L593.19,436.98 L593.40,436.94 L593.62,436.90 L593.83,436.86 L594.04,436.82 L594.25,436.78 L594.47,436.74 L594.68,436.70 L594.90,436.67 L595.11,436.63 L595.33,436.60 L595.54,436.57 L595.76,436.53 L595.98,436.50 L596.20,436.48 L596.42,436.45 L596.64,436.43 L596.86,436.41 L597.09,436.39 L597.31,436.38 L597.54,436.37 L597.77,436.36 L598.00,436.36 L598.23,436.37 L598.46,436.38 L598.70,436.40 L598.94,436.42 L599.18,436.45 L599.43,436.49 L599.67,436.53 L599.92,436.58 L600.18,436.65 L600.44,436.72 L600.70,436.80 L600.96,436.90 L601.23,437.00 L601.50,437.11 L601.78,437.24 L602.06,437.38 L602.34,437.53 L602.63,437.70 L602.93,437.87 L603.23,438.06 L603.53,438.27 L603.84,438.49 L604.15,438.72 L604.47,438.97 L604.79,439.23 L605.12,439.50 L605.45,439.79 L605.79,440.10 L606.13,440.42 L606.48,440.75 L606.84,441.10 L607.19,441.46 L607.56,441.84 L607.92,442.23 L608.29,442.63 L608.67,443.04 L609.05,443.47 L609.43,443.91 L609.82,444.36 L610.21,444.82 L610.61,445.29 L611.01,445.76 L611.41,446.25 L611.81,446.75 L612.22,447.25 L612.63,447.76 L613.04,448.28 L613.45,448.80 L613.86,449.33 L614.28,449.86 L614.70,450.39 L615.11,450.92 L615.53,451.46 L615.95,451.99 L616.36,452.53 L616.78,453.06 L617.20,453.59 L617.61,454.12 L618.02,454.64 L618.44,455.16 L618.85,455.68 L619.25,456.18 L619.66,456.68 L620.06,457.18 L620.46,457.66 L620.86,458.14 L621.25,458.60 L621.64,459.06 L622.03,459.50 L622.41,459.94 L622.79,460.36 L623.16,460.77 L623.54,461.17 L623.90,461.56 L624.26,461.94 L624.62,462.30 L624.97,462.65 L625.32,462.98 L625.67,463.30 L626.01,463.61 L626.34,463.91 L626.67,464.19 L627.00,464.46 L627.32,464.71 L627.63,464.96 L627.95,465.19 L628.25,465.41 L628.56,465.61 L628.86,465.81 L629.15,465.99 L629.44,466.16 L629.73,466.32 L630.02,466.47 L630.30,466.61 L630.57,466.74 L630.84,466.86 L631.11,466.97 L631.38,467.07 L631.65,467.16 L631.91,467.25 L632.17,467.33 L632.42,467.40 L632.67,467.47 L632.93,467.53 L633.18,467.58 L633.42,467.63 L633.67,467.67 L633.91,467.71 L634.15,467.75 L634.39,467.78 L634.63,467.81 L634.87,467.83 L635.10,467.85 L635.34,467.87 L635.57,467.88 L635.80,467.90 L636.03,467.91 L636.26,467.91 L636.49,467.92 L636.72,467.92 L636.95,467.92 L637.17,467.92 L637.40,467.92 L637.62,467.91 L637.85,467.91 L638.07,467.90 L638.29,467.89 L638.51,467.87 L638.73,467.86 L638.94,467.84 L639.16,467.82 L639.37,467.79 L639.59,467.77 L639.80,467.74 L640.01,467.71 L640.22,467.67 L640.43,467.63 L640.64,467.59 L640.84,467.54 L641.05,467.49 L641.25,467.44 L641.45,467.38 L641.65,467.31 L641.85,467.25 L642.04,467.18 L642.23,467.10 L642.43,467.02 L642.62,466.94 L642.81,466.85 L642.99,466.76 L643.18,466.66 L643.36,466.56 L643.55,466.45 L643.73,466.34 L643.91,466.23 L644.09,466.11 L644.26,465.99 L644.44,465.86 L644.61,465.74 L644.79,465.60 L644.96,465.47 L645.13,465.33 L645.30,465.19 L645.47,465.05 L645.64,464.91 L645.80,464.76 L645.97,464.62 L646.14,464.47 L646.30,464.32 L646.47,464.18 L646.64,464.03 L646.80,463.88 L646.97,463.73 L647.14,463.59 L647.31,463.44 L647.47,463.30 L647.64,463.15 L647.81,463.01 L647.98,462.88 L648.15,462.74 L648.32,462.61 L648.50,462.48 L648.67,462.35 L648.84,462.23 L649.02,462.11 L649.20,462.00 L649.38,461.88 L649.56,461.78 L649.74,461.67 L649.92,461.57 L650.11,461.48 L650.29,461.38 L650.48,461.30 L650.67,461.21 L650.86,461.13 L651.05,461.06 L651.24,460.99 L651.44,460.92 L651.63,460.85 L651.83,460.79 L652.03,460.74 L652.23,460.68 L652.43,460.63 L652.63,460.58 L652.84,460.54 L653.04,460.50 L653.25,460.46 L653.45,460.42 L653.66,460.38 L653.87,460.35 L654.08,460.32 L654.29,460.29 L654.50,460.26 L654.71,460.23 L654.92,460.21 L655.13,460.18 L655.35,460.16 L655.56,460.14 L655.78,460.11 L655.99,460.09 L656.21,460.07 L656.42,460.05 L656.64,460.04 L656.86,460.02 L657.07,460.00 L657.29,459.99 L657.51,459.98 L657.73,459.97 L657.95,459.96 L658.18,459.95 L658.40,459.95 L658.63,459.94 L658.85,459.95 L659.08,459.95 L659.31,459.96 L659.54,459.97 L659.77,459.99 L660.01,460.01 L660.25,460.04 L660.49,460.07 L660.73,460.11 L660.97,460.16 L661.22,460.21 L661.47,460.28 L661.73,460.35 L661.98,460.43 L662.24,460.51 L662.51,460.61 L662.77,460.72 L663.05,460.84 L663.32,460.97 L663.60,461.11 L663.89,461.27 L664.17,461.43 L664.47,461.61 L664.77,461.80 L665.07,462.01 L665.38,462.23 L665.69,462.46 L666.01,462.71 L666.33,462.97 L666.66,463.25 L666.99,463.54 L667.33,463.85 L667.67,464.17 L668.02,464.51 L668.37,464.86 L668.73,465.22 L669.09,465.60 L669.46,465.99 L669.84,466.40 L670.21,466.82 L670.60,467.25 L670.98,467.69 L671.37,468.15 L671.77,468.62 L672.17,469.10 L672.57,469.59 L672.98,470.09 L673.39,470.60 L673.80,471.12 L674.21,471.64 L674.63,472.18 L675.05,472.72 L675.47,473.26 L675.90,473.81 L676.32,474.37 L676.75,474.92 L677.18,475.48 L677.60,476.04 L678.03,476.60 L678.46,477.17 L678.89,477.73 L679.32,478.28 L679.74,478.84 L680.17,479.39 L680.59,479.94 L681.01,480.48 L681.43,481.02 L681.85,481.55 L682.27,482.07 L682.68,482.58 L683.09,483.09 L683.50,483.59 L683.90,484.07 L684.30,484.55 L684.70,485.01 L685.09,485.47 L685.48,485.91 L685.87,486.34 L686.25,486.75 L686.62,487.16 L686.99,487.55 L687.36,487.93 L687.72,488.29 L688.08,488.64 L688.44,488.98 L688.79,489.30 L689.13,489.61 L689.47,489.91 L689.80,490.19 L690.13,490.46 L690.46,490.71 L690.78,490.96 L691.10,491.19 L691.41,491.40 L691.72,491.61 L692.03,491.80 L692.33,491.99 L692.62,492.16 L692.92,492.32 L693.21,492.47 L693.49,492.61 L693.78,492.74 L694.06,492.86 L694.33,492.97 L694.61,493.07 L694.88,493.17 L695.15,493.26 L695.41,493.34 L695.68,493.41 L695.94,493.48 L696.20,493.54 L696.45,493.60 L696.71,493.65 L696.96,493.70 L697.21,493.74 L697.46,493.78 L697.71,493.81 L697.96,493.84 L698.21,493.87 L698.45,493.89 L698.69,493.91 L698.94,493.93 L699.18,493.95 L699.42,493.96 L699.66,493.97 L699.89,493.98 L700.13,493.98 L700.37,493.98 L700.60,493.98 L700.84,493.98 L701.07,493.98 L701.30,493.97 L701.53,493.96 L701.76,493.95 L701.99,493.93 L702.22,493.91 L702.44,493.89 L702.67,493.87 L702.89,493.84 L703.11,493.81 L703.33,493.77 L703.55,493.74 L703.77,493.69 L703.99,493.65 L704.20,493.60 L704.41,493.54 L704.62,493.48 L704.83,493.42 L705.04,493.35 L705.25,493.28 L705.45,493.21 L705.66,493.12 L705.86,493.04 L706.06,492.95 L706.26,492.85 L706.45,492.75 L706.65,492.65 L706.84,492.54 L707.03,492.43 L707.22,492.31 L707.41,492.19 L707.59,492.06 L707.78,491.93 L707.96,491.80 L708.15,491.66 L708.33,491.52 L708.51,491.38 L708.69,491.23 L708.86,491.08 L709.04,490.93 L709.22,490.78 L709.40,490.62 L709.57,490.47 L709.75,490.31 L709.92,490.15 L710.10,490.00 L710.27,489.84 L710.44,489.68 L710.62,489.52 L710.79,489.37 L710.97,489.21 L711.15,489.06 L711.32,488.91 L711.50,488.76 L711.68,488.61 L711.86,488.46 L712.04,488.32 L712.22,488.18 L712.40,488.05 L712.58,487.91 L712.77,487.79 L712.95,487.66 L713.14,487.54 L713.33,487.42 L713.52,487.31 L713.71,487.20 L713.90,487.09 L714.09,486.99 L714.29,486.90 L714.48,486.80 L714.68,486.71 L714.88,486.63 L715.08,486.55 L715.28,486.47 L715.49,486.40 L715.69,486.33 L715.90,486.26 L716.11,486.20 L716.31,486.14 L716.52,486.08 L716.73,486.03 L716.94,485.98 L717.16,485.93 L717.37,485.88 L717.58,485.84 L717.80,485.80 L718.01,485.76 L718.23,485.72 L718.45,485.68 L718.67,485.64 L718.88,485.61 L719.10,485.58 L719.32,485.54 L719.54,485.51 L719.76,485.48 L719.98,485.45 L720.20,485.43 L720.42,485.40 L720.65,485.37 L720.87,485.35 L721.09,485.33 L721.32,485.31 L721.54,485.29 L721.77,485.27 L721.99,485.25 L722.22,485.24 L722.45,485.23 L722.68,485.22 L722.91,485.22 L723.15,485.22 L723.38,485.22 L723.62,485.23 L723.85,485.25 L724.09,485.27 L724.34,485.29 L724.58,485.32 L724.83,485.36 L725.08,485.41 L725.33,485.46 L725.59,485.52 L725.85,485.59 L726.11,485.67 L726.37,485.76 L726.64,485.86 L726.91,485.97 L727.19,486.09 L727.47,486.22 L727.76,486.37 L728.05,486.53 L728.34,486.70 L728.64,486.88 L728.94,487.08 L729.25,487.29 L729.56,487.52 L729.88,487.76 L730.20,488.01 L730.53,488.28 L730.86,488.56 L731.20,488.86 L731.54,489.18 L731.89,489.51 L732.24,489.85 L732.60,490.21 L732.97,490.58 L733.34,490.97 L733.71,491.37 L734.09,491.79 L734.47,492.22 L734.86,492.66 L735.25,493.12 L735.64,493.59 L736.04,494.07 L736.45,494.56 L736.85,495.06 L737.27,495.57 L737.68,496.09 L738.10,496.62 L738.52,497.16 L738.94,497.70 L739.36,498.25 L739.79,498.81 L740.21,499.37 L740.64,499.93 L741.07,500.50 L741.50,501.07 L741.94,501.64 L742.37,502.21 L742.80,502.78 L743.23,503.35 L743.66,503.92 L744.09,504.49 L744.52,505.05 L744.94,505.60 L745.37,506.16 L745.79,506.70 L746.21,507.24 L746.63,507.77 L747.04,508.29 L747.45,508.81 L747.86,509.31 L748.26,509.80 L748.67,510.29 L749.06,510.76 L749.46,511.22 L749.85,511.67 L750.23,512.10 L750.61,512.53 L750.99,512.94 L751.36,513.33 L751.73,513.72 L752.09,514.09 L752.45,514.44 L752.80,514.79 L753.15,515.12 L753.49,515.43 L753.83,515.73 L754.17,516.02 L754.50,516.30 L754.82,516.56 L755.14,516.81 L755.46,517.04 L755.77,517.27 L756.08,517.48 L756.38,517.68 L756.68,517.87 L756.98,518.04 L757.27,518.21 L757.56,518.37 L757.85,518.51 L758.13,518.65 L758.41,518.78 L758.68,518.90 L758.96,519.01 L759.23,519.11 L759.50,519.21 L759.76,519.30 L760.02,519.38 L760.28,519.46 L760.54,519.53 L760.80,519.59 L761.05,519.66 L761.31,519.71 L761.56,519.76 L761.81,519.81 L762.06,519.85 L762.30,519.89 L762.55,519.93 L762.79,519.97 L763.04,520.00 L763.28,520.02 L763.52,520.05 L763.76,520.07 L764.00,520.09 L764.24,520.11 L764.47,520.13 L764.71,520.14 L764.94,520.15 L765.18,520.16 L765.41,520.17 L765.64,520.17 L765.87,520.17 L766.10,520.17 L766.33,520.17 L766.56,520.16 L766.78,520.15 L767.01,520.14 L767.23,520.12 L767.45,520.10 L767.67,520.08 L767.89,520.05 L768.11,520.02 L768.32,519.99 L768.54,519.95 L768.75,519.90 L768.96,519.86 L769.17,519.80 L769.38,519.75 L769.59,519.69 L769.79,519.62 L769.99,519.55 L770.19,519.48 L770.39,519.40 L770.59,519.31 L770.78,519.22 L770.98,519.13 L771.17,519.03 L771.36,518.93 L771.55,518.82 L771.73,518.71 L771.92,518.60 L772.10,518.48 L772.29,518.36 L772.47,518.23 L772.65,518.10 L772.83,517.97 L773.00,517.83 L773.18,517.70 L773.36,517.56 L773.53,517.42 L773.71,517.27 L773.88,517.13 L774.06,516.98 L774.23,516.84 L774.40,516.69 L774.57,516.55 L774.75,516.40 L774.92,516.26 L775.09,516.11 L775.27,515.97 L775.44,515.83 L775.61,515.69 L775.79,515.55 L775.97,515.42 L776.14,515.29 L776.32,515.16 L776.50,515.03 L776.68,514.91 L776.86,514.79 L777.04,514.67 L777.22,514.56 L777.40,514.45 L777.59,514.35 L777.78,514.25 L777.96,514.15 L778.15,514.06 L778.34,513.97 L778.53,513.89 L778.73,513.81 L778.92,513.73 L779.12,513.66 L779.31,513.59 L779.51,513.53 L779.71,513.47 L779.91,513.41 L780.11,513.36 L780.31,513.31 L780.51,513.26 L780.72,513.22 L780.92,513.17 L781.13,513.13 L781.33,513.10 L781.54,513.06 L781.75,513.03 L781.96,513.00 L782.17,512.97 L782.38,512.94 L782.58,512.91 L782.79,512.89 L783.01,512.86 L783.22,512.84 L783.43,512.82 L783.64,512.80 L783.85,512.78 L784.06,512.76 L784.27,512.74 L784.49,512.72 L784.70,512.71 L784.91,512.69 L785.13,512.68 L785.34,512.66 L785.56,512.65 L785.77,512.64 L785.99,512.64 L786.20,512.63 L786.42,512.63 L786.66,512.63 L786.89,512.64 L787.13,512.65 L787.37,512.66 L787.61,512.68 L787.85,512.70 L788.10,512.72 L788.35,512.76 L788.60,512.80 L788.85,512.84 L789.10,512.90 L789.36,512.96 L789.62,513.03 L789.88,513.11 L790.15,513.20 L790.41,513.29 L790.69,513.40 L790.96,513.52 L791.24,513.65 L791.53,513.80 L791.82,513.95 L792.11,514.12 L792.40,514.30 L792.71,514.49 L793.01,514.70 L793.32,514.92 L793.64,515.16 L793.96,515.41 L794.28,515.68 L794.61,515.96 L794.95,516.25 L795.29,516.56 L795.64,516.89 L795.99,517.23 L796.34,517.58 L796.70,517.95 L797.07,518.34 L797.44,518.74 L797.82,519.15 L798.20,519.58 L798.58,520.02 L798.97,520.47 L799.36,520.94 L799.76,521.42 L800.16,521.91 L800.57,522.41 L800.98,522.92 L801.39,523.44 L801.80,523.97 L802.22,524.51 L802.64,525.06 L803.06,525.61 L803.49,526.17 L803.91,526.73 L804.34,527.30 L804.77,527.87 L805.20,528.45 L805.63,529.02 L806,529.02 L806,100 L528.00,100 Z"/></clipPath>
</defs>
<rect width="800" height="800" fill="#fff"/>
<g clip-path="url(#sheet)">
<rect x="0" y="0" width="800" height="800" fill="#cfd0cc"/>
<line x1="193.82" y1="266.74" x2="820.00" y2="23.42" stroke="#cdcecb" stroke-width="7" filter="url(#b3)"/>
<line x1="193.82" y1="282.24" x2="820.00" y2="38.92" stroke="url(#h1)" stroke-width="14" filter="url(#b4)"/>
<line x1="249.72" y1="288.57" x2="820.00" y2="64.16" stroke="#cdcecb" stroke-width="7" filter="url(#b3)"/>
<line x1="249.72" y1="304.07" x2="820.00" y2="79.66" stroke="url(#h2)" stroke-width="14" filter="url(#b4)"/>
<line x1="303.55" y1="310.33" x2="820.00" y2="104.57" stroke="#cdcecb" stroke-width="7" filter="url(#b3)"/>
<line x1="303.55" y1="325.83" x2="820.00" y2="120.07" stroke="url(#h3)" stroke-width="14" filter="url(#b4)"/>
<line x1="359.59" y1="332.58" x2="820.00" y2="146.79" stroke="#cdcecb" stroke-width="7" filter="url(#b3)"/>
<line x1="359.59" y1="348.08" x2="820.00" y2="162.29" stroke="url(#h4)" stroke-width="14" filter="url(#b4)"/>
<line x1="417.52" y1="354.81" x2="820.00" y2="190.27" stroke="#cdcecb" stroke-width="7" filter="url(#b3)"/>
<line x1="417.52" y1="370.31" x2="820.00" y2="205.77" stroke="url(#h5)" stroke-width="14" filter="url(#b4)"/>
<line x1="472.51" y1="379.67" x2="820.00" y2="235.71" stroke="#cdcecb" stroke-width="7" filter="url(#b3)"/>
<line x1="472.51" y1="395.17" x2="820.00" y2="251.21" stroke="url(#h6)" stroke-width="14" filter="url(#b4)"/>
<line x1="535.76" y1="406.68" x2="820.00" y2="287.15" stroke="#cdcecb" stroke-width="7" filter="url(#b3)"/>
<line x1="535.76" y1="422.18" x2="820.00" y2="302.65" stroke="url(#h7)" stroke-width="14" filter="url(#b4)"/>
<line x1="597.91" y1="430.86" x2="820.00" y2="336.15" stroke="#cdcecb" stroke-width="7" filter="url(#b3)"/>
<line x1="597.91" y1="446.36" x2="820.00" y2="351.65" stroke="url(#h8)" stroke-width="14" filter="url(#b4)"/>
<line x1="658.64" y1="454.44" x2="820.00" y2="384.68" stroke="#cdcecb" stroke-width="7" filter="url(#b3)"/>
<line x1="658.64" y1="469.94" x2="820.00" y2="400.18" stroke="url(#h9)" stroke-width="14" filter="url(#b4)"/>
<line x1="723.03" y1="479.72" x2="820.00" y2="437.18" stroke="#cdcecb" stroke-width="7" filter="url(#b3)"/>
<line x1="723.03" y1="495.22" x2="820.00" y2="452.68" stroke="url(#h10)" stroke-width="14" filter="url(#b4)"/>
<line x1="786.42" y1="507.13" x2="820.00" y2="492.18" stroke="#cdcecb" stroke-width="7" filter="url(#b3)"/>
<line x1="786.42" y1="522.63" x2="820.00" y2="507.68" stroke="url(#h11)" stroke-width="14" filter="url(#b4)"/>
<line x1="193.82" y1="274.64" x2="820.00" y2="31.32" stroke="url(#g1)" stroke-width="5.5" filter="url(#b1)"/>
<line x1="249.72" y1="296.47" x2="820.00" y2="72.06" stroke="url(#g2)" stroke-width="5.5" filter="url(#b1)"/>
<line x1="303.55" y1="318.23" x2="820.00" y2="112.47" stroke="url(#g3)" stroke-width="5.5" filter="url(#b1)"/>
<line x1="359.59" y1="340.48" x2="820.00" y2="154.69" stroke="url(#g4)" stroke-width="5.5" filter="url(#b1)"/>
<line x1="417.52" y1="362.71" x2="820.00" y2="198.17" stroke="url(#g5)" stroke-width="5.5" filter="url(#b1)"/>
<line x1="472.51" y1="387.57" x2="820.00" y2="243.61" stroke="url(#g6)" stroke-width="5.5" filter="url(#b1)"/>
<line x1="535.76" y1="414.58" x2="820.00" y2="295.05" stroke="url(#g7)" stroke-width="5.5" filter="url(#b1)"/>
<line x1="597.91" y1="438.76" x2="820.00" y2="344.05" stroke="url(#g8)" stroke-width="5.5" filter="url(#b1)"/>
<line x1="658.64" y1="462.34" x2="820.00" y2="392.58" stroke="url(#g9)" stroke-width="5.5" filter="url(#b1)"/>
<line x1="723.03" y1="487.62" x2="820.00" y2="445.08" stroke="url(#g10)" stroke-width="5.5" filter="url(#b1)"/>
<line x1="786.42" y1="515.03" x2="820.00" y2="500.08" stroke="url(#g11)" stroke-width="5.5" filter="url(#b1)"/>
<line x1="150.00" y1="247.35" x2="540" y2="93.9" stroke="#ffffff" stroke-width="8" filter="url(#b3)"/>
</g>
<path d="M130.00,256.55 L130.15,256.43 L130.30,256.31 L130.44,256.18 L130.59,256.05 L130.73,255.92 L130.88,255.79 L131.02,255.65 L131.16,255.52 L131.30,255.38 L131.45,255.24 L131.59,255.10 L131.73,254.95 L131.87,254.81 L132.01,254.67 L132.15,254.53 L132.29,254.38 L132.43,254.24 L132.58,254.10 L132.72,253.96 L132.86,253.82 L133.00,253.68 L133.15,253.55 L133.29,253.42 L133.44,253.29 L133.58,253.16 L133.73,253.03 L133.88,252.91 L134.03,252.79 L134.18,252.68 L134.33,252.56 L134.48,252.45 L134.64,252.35 L134.79,252.24 L134.95,252.15 L135.10,252.05 L135.26,251.96 L135.42,251.87 L135.58,251.78 L135.74,251.70 L135.91,251.63 L136.07,251.55 L136.24,251.48 L136.40,251.41 L136.57,251.35 L136.74,251.28 L136.91,251.22 L137.08,251.17 L137.25,251.11 L137.42,251.06 L137.60,251.01 L137.77,250.96 L137.94,250.92 L138.12,250.87 L138.29,250.83 L138.47,250.79 L138.65,250.75 L138.82,250.71 L139.00,250.67 L139.18,250.64 L139.36,250.60 L139.53,250.57 L139.71,250.53 L139.89,250.50 L140.07,250.47 L140.25,250.44 L140.43,250.40 L140.61,250.37 L140.79,250.35 L140.97,250.32 L141.15,250.29 L141.33,250.27 L141.52,250.24 L141.70,250.22 L141.88,250.20 L142.07,250.19 L142.25,250.17 L142.44,250.16 L142.63,250.15 L142.81,250.15 L143.02,250.16 L143.25,250.17 L143.48,250.20 L143.71,250.22 L143.95,250.26 L144.19,250.30 L144.43,250.34 L144.67,250.39 L144.91,250.45 L145.16,250.52 L145.41,250.60 L145.66,250.68 L145.91,250.78 L146.17,250.88 L146.43,250.99 L146.70,251.11 L146.96,251.25 L147.24,251.39 L147.51,251.55 L147.79,251.72 L148.07,251.90 L148.36,252.09 L148.65,252.29 L148.95,252.51 L149.24,252.74 L149.55,252.98 L149.86,253.23 L150.17,253.50 L150.48,253.78 L150.80,254.08 L151.13,254.39 L151.46,254.70 L151.79,255.04 L152.12,255.38 L152.46,255.74 L152.81,256.11 L153.16,256.49 L153.51,256.88 L153.86,257.29 L154.22,257.70 L154.58,258.12 L154.94,258.56 L155.31,259.00 L155.68,259.45 L156.05,259.91 L156.42,260.37 L156.80,260.84 L157.18,261.32 L157.55,261.80 L157.93,262.29 L158.31,262.78 L158.69,263.27 L159.08,263.77 L159.46,264.27 L159.84,264.77 L160.22,265.27 L160.60,265.76 L160.98,266.26 L161.36,266.75 L161.73,267.24 L162.11,267.73 L162.48,268.21 L162.85,268.69 L163.22,269.16 L163.59,269.63 L163.95,270.08 L164.31,270.54 L164.66,270.98 L165.02,271.41 L165.37,271.84 L165.71,272.25 L166.06,272.65 L166.39,273.05 L166.73,273.43 L167.06,273.81 L167.38,274.17 L167.70,274.52 L168.02,274.85 L168.33,275.18 L168.64,275.49 L168.94,275.79 L169.23,276.08 L169.53,276.36 L169.82,276.63 L170.10,276.88 L170.38,277.12 L170.65,277.35 L170.92,277.57 L171.19,277.77 L171.45,277.97 L171.70,278.15 L171.95,278.33 L172.20,278.49 L172.45,278.64 L172.69,278.79 L172.92,278.92 L173.15,279.05 L173.38,279.16 L173.61,279.27 L173.83,279.37 L174.05,279.46 L174.26,279.55 L174.47,279.63 L174.68,279.70 L174.89,279.77 L175.09,279.83 L175.29,279.88 L175.49,279.94 L175.69,279.98 L175.88,280.02 L176.08,280.06 L176.27,280.09 L176.45,280.12 L176.64,280.15 L176.82,280.17 L177.00,280.19 L177.18,280.21 L177.36,280.23 L177.54,280.24 L177.71,280.25 L177.89,280.26 L178.06,280.27 L178.23,280.27 L178.40,280.27 L178.56,280.27 L178.73,280.27 L178.89,280.26 L179.05,280.26 L179.22,280.25 L179.37,280.23 L179.53,280.22 L179.69,280.20 L179.84,280.18 L179.99,280.16 L180.15,280.14 L180.29,280.11 L180.44,280.08 L180.59,280.04 L180.73,280.01 L180.87,279.97 L181.02,279.92 L181.15,279.87 L181.29,279.82 L181.43,279.76 L181.56,279.70 L181.69,279.64 L181.82,279.57 L181.95,279.50 L182.08,279.42 L182.20,279.34 L182.32,279.26 L182.44,279.17 L182.56,279.08 L182.68,278.98 L182.80,278.88 L182.91,278.77 L183.02,278.66 L183.14,278.55 L183.25,278.44 L183.36,278.32 L183.46,278.19 L183.57,278.07 L183.68,277.94 L183.78,277.81 L183.88,277.68 L183.99,277.54 L184.09,277.40 L184.19,277.27 L184.29,277.13 L184.39,276.99 L184.49,276.84 L184.59,276.70 L184.69,276.56 L184.80,276.42 L184.90,276.28 L185.00,276.14 L185.10,276.00 L185.20,275.86 L185.31,275.72 L185.41,275.59 L185.52,275.45 L185.62,275.32 L185.73,275.19 L185.84,275.07 L185.95,274.94 L186.06,274.82 L186.17,274.71 L186.28,274.59 L186.40,274.48 L186.52,274.37 L186.63,274.27 L186.75,274.17 L186.88,274.07 L187.00,273.98 L187.12,273.89 L187.25,273.81 L187.38,273.72 L187.51,273.65 L187.64,273.57 L187.78,273.50 L187.91,273.43 L188.05,273.37 L188.19,273.30 L188.33,273.24 L188.47,273.19 L188.62,273.13 L188.76,273.08 L188.91,273.03 L189.06,272.99 L189.21,272.94 L189.36,272.90 L189.52,272.86 L189.67,272.82 L189.83,272.78 L189.98,272.74 L190.14,272.71 L190.30,272.68 L190.46,272.64 L190.63,272.61 L190.79,272.58 L190.96,272.55 L191.12,272.52 L191.29,272.49 L191.46,272.46 L191.63,272.44 L191.80,272.41 L191.98,272.39 L192.15,272.36 L192.33,272.34 L192.51,272.32 L192.69,272.30 L192.87,272.29 L193.06,272.27 L193.25,272.26 L193.43,272.25 L193.63,272.25 L193.82,272.24 L194.02,272.25 L194.22,272.25 L194.42,272.26 L194.63,272.28 L194.83,272.30 L195.05,272.33 L195.26,272.36 L195.48,272.40 L195.70,272.45 L195.93,272.51 L196.16,272.57 L196.39,272.64 L196.63,272.72 L196.88,272.81 L197.12,272.91 L197.38,273.02 L197.63,273.15 L197.89,273.28 L198.16,273.42 L198.43,273.58 L198.71,273.74 L198.99,273.92 L199.27,274.11 L199.56,274.32 L199.86,274.54 L200.16,274.77 L200.47,275.01 L200.78,275.27 L201.10,275.54 L201.42,275.82 L201.75,276.12 L202.08,276.43 L202.42,276.75 L202.77,277.09 L203.11,277.44 L203.47,277.80 L203.83,278.17 L204.19,278.56 L204.56,278.95 L204.93,279.36 L205.30,279.78 L205.68,280.20 L206.06,280.64 L206.45,281.09 L206.84,281.54 L207.23,282.00 L207.63,282.47 L208.03,282.95 L208.43,283.43 L208.83,283.92 L209.23,284.41 L209.64,284.90 L210.04,285.40 L210.45,285.90 L210.86,286.40 L211.27,286.90 L211.68,287.40 L212.09,287.90 L212.50,288.40 L212.90,288.90 L213.31,289.39 L213.72,289.88 L214.12,290.36 L214.52,290.84 L214.92,291.31 L215.32,291.78 L215.72,292.24 L216.11,292.69 L216.50,293.13 L216.89,293.56 L217.27,293.99 L217.65,294.40 L218.03,294.80 L218.40,295.20 L218.77,295.58 L219.13,295.95 L219.49,296.31 L219.85,296.66 L220.20,296.99 L220.55,297.32 L220.89,297.63 L221.23,297.93 L221.57,298.21 L221.90,298.49 L222.22,298.75 L222.54,299.00 L222.86,299.24 L223.17,299.47 L223.48,299.68 L223.78,299.88 L224.08,300.08 L224.38,300.26 L224.67,300.43 L224.96,300.59 L225.24,300.74 L225.52,300.88 L225.79,301.01 L226.06,301.13 L226.33,301.25 L226.60,301.35 L226.86,301.45 L227.11,301.54 L227.37,301.63 L227.62,301.70 L227.87,301.77 L228.11,301.84 L228.36,301.90 L228.60,301.95 L228.84,302.00 L229.07,302.04 L229.30,302.08 L229.53,302.12 L229.76,302.15 L229.99,302.18 L230.21,302.21 L230.43,302.23 L230.65,302.25 L230.87,302.27 L231.09,302.28 L231.30,302.29 L231.51,302.30 L231.72,302.31 L231.93,302.32 L232.14,302.32 L232.34,302.32 L232.54,302.32 L232.74,302.32 L232.94,302.31 L233.14,302.31 L233.33,302.30 L233.52,302.28 L233.71,302.27 L233.90,302.25 L234.09,302.23 L234.28,302.21 L234.46,302.18 L234.64,302.16 L234.82,302.12 L234.99,302.09 L235.17,302.05 L235.34,302.01 L235.51,301.96 L235.68,301.91 L235.85,301.86 L236.01,301.80 L236.17,301.74 L236.33,301.67 L236.49,301.60 L236.64,301.53 L236.80,301.45 L236.95,301.37 L237.10,301.28 L237.24,301.19 L237.39,301.10 L237.53,301.00 L237.67,300.90 L237.81,300.79 L237.95,300.68 L238.08,300.56 L238.22,300.45 L238.35,300.33 L238.48,300.20 L238.61,300.07 L238.73,299.94 L238.86,299.81 L238.98,299.68 L239.11,299.54 L239.23,299.40 L239.35,299.26 L239.47,299.12 L239.59,298.98 L239.71,298.83 L239.83,298.69 L239.95,298.55 L240.07,298.40 L240.19,298.26 L240.31,298.12 L240.43,297.98 L240.55,297.84 L240.67,297.70 L240.79,297.56 L240.91,297.43 L241.03,297.30 L241.15,297.17 L241.28,297.04 L241.40,296.92 L241.53,296.80 L241.65,296.68 L241.78,296.56 L241.91,296.45 L242.04,296.34 L242.17,296.24 L242.30,296.14 L242.43,296.04 L242.57,295.95 L242.70,295.86 L242.84,295.77 L242.98,295.69 L243.12,295.61 L243.26,295.53 L243.41,295.46 L243.55,295.39 L243.70,295.32 L243.84,295.26 L243.99,295.20 L244.14,295.14 L244.29,295.08 L244.44,295.03 L244.60,294.98 L244.75,294.93 L244.91,294.88 L245.06,294.84 L245.22,294.79 L245.38,294.75 L245.54,294.71 L245.70,294.67 L245.86,294.63 L246.02,294.59 L246.18,294.56 L246.35,294.52 L246.51,294.49 L246.68,294.45 L246.85,294.42 L247.01,294.39 L247.18,294.35 L247.35,294.32 L247.52,294.29 L247.70,294.26 L247.87,294.24 L248.04,294.21 L248.22,294.18 L248.40,294.16 L248.58,294.14 L248.76,294.12 L248.94,294.11 L249.12,294.09 L249.31,294.08 L249.50,294.08 L249.69,294.07 L249.88,294.07 L250.08,294.08 L250.28,294.09 L250.48,294.11 L250.68,294.13 L250.89,294.16 L251.10,294.20 L251.31,294.24 L251.53,294.29 L251.75,294.35 L251.98,294.42 L252.20,294.50 L252.44,294.58 L252.67,294.68 L252.92,294.79 L253.16,294.91 L253.41,295.04 L253.66,295.18 L253.92,295.33 L254.19,295.49 L254.46,295.67 L254.73,295.86 L255.01,296.06 L255.29,296.28 L255.58,296.51 L255.88,296.75 L256.17,297.01 L256.48,297.28 L256.79,297.56 L257.10,297.86 L257.42,298.16 L257.74,298.49 L258.07,298.82 L258.41,299.17 L258.74,299.53 L259.09,299.90 L259.43,300.29 L259.79,300.68 L260.14,301.09 L260.50,301.50 L260.86,301.93 L261.23,302.37 L261.60,302.81 L261.97,303.27 L262.35,303.73 L262.73,304.19 L263.11,304.67 L263.49,305.15 L263.87,305.63 L264.26,306.12 L264.65,306.61 L265.04,307.11 L265.43,307.60 L265.81,308.10 L266.21,308.60 L266.60,309.10 L266.99,309.59 L267.37,310.08 L267.76,310.58 L268.15,311.06 L268.54,311.55 L268.92,312.02 L269.30,312.50 L269.68,312.96 L270.06,313.42 L270.44,313.88 L270.81,314.32 L271.18,314.75 L271.54,315.18 L271.91,315.60 L272.27,316.00 L272.62,316.40 L272.97,316.78 L273.32,317.16 L273.67,317.52 L274.01,317.87 L274.34,318.21 L274.67,318.53 L275.00,318.85 L275.32,319.15 L275.64,319.44 L275.96,319.72 L276.27,319.98 L276.57,320.24 L276.87,320.48 L277.17,320.71 L277.46,320.92 L277.75,321.13 L278.03,321.32 L278.31,321.50 L278.59,321.68 L278.86,321.84 L279.13,321.99 L279.39,322.13 L279.65,322.26 L279.91,322.39 L280.16,322.50 L280.41,322.61 L280.65,322.70 L280.90,322.79 L281.14,322.88 L281.38,322.95 L281.61,323.02 L281.84,323.09 L282.07,323.14 L282.30,323.20 L282.52,323.24 L282.75,323.29 L282.97,323.33 L283.18,323.36 L283.40,323.39 L283.61,323.42 L283.83,323.44 L284.04,323.46 L284.25,323.48 L284.45,323.50 L284.66,323.51 L284.86,323.52 L285.06,323.53 L285.26,323.54 L285.46,323.54 L285.66,323.54 L285.86,323.54 L286.05,323.54 L286.25,323.54 L286.44,323.54 L286.63,323.53 L286.81,323.52 L287.00,323.51 L287.19,323.49 L287.37,323.48 L287.55,323.46 L287.73,323.44 L287.91,323.42 L288.09,323.39 L288.26,323.36 L288.44,323.33 L288.61,323.29 L288.78,323.25 L288.95,323.21 L289.11,323.17 L289.28,323.12 L289.44,323.06 L289.60,323.01 L289.76,322.94 L289.92,322.88 L290.07,322.81 L290.23,322.74 L290.38,322.66 L290.53,322.58 L290.68,322.49 L290.82,322.40 L290.97,322.31 L291.11,322.21 L291.25,322.11 L291.39,322.00 L291.53,321.90 L291.66,321.78 L291.80,321.67 L291.93,321.55 L292.06,321.43 L292.19,321.30 L292.32,321.17 L292.45,321.04 L292.58,320.91 L292.70,320.78 L292.83,320.64 L292.96,320.51 L293.08,320.37 L293.20,320.23 L293.33,320.09 L293.45,319.95 L293.58,319.81 L293.70,319.68 L293.83,319.54 L293.95,319.40 L294.07,319.26 L294.20,319.13 L294.33,319.00 L294.45,318.87 L294.58,318.74 L294.71,318.61 L294.84,318.49 L294.97,318.37 L295.10,318.25 L295.23,318.14 L295.37,318.03 L295.50,317.92 L295.64,317.82 L295.78,317.72 L295.92,317.62 L296.06,317.53 L296.20,317.44 L296.34,317.35 L296.49,317.27 L296.64,317.19 L296.79,317.12 L296.94,317.05 L297.09,316.98 L297.24,316.91 L297.39,316.85 L297.55,316.79 L297.71,316.74 L297.87,316.69 L298.03,316.64 L298.19,316.59 L298.35,316.54 L298.51,316.50 L298.68,316.46 L298.85,316.42 L299.01,316.39 L299.18,316.35 L299.35,316.32 L299.52,316.28 L299.69,316.25 L299.87,316.22 L300.04,316.19 L300.22,316.16 L300.39,316.14 L300.57,316.11 L300.75,316.08 L300.92,316.06 L301.10,316.03 L301.28,316.01 L301.47,315.98 L301.65,315.96 L301.83,315.94 L302.02,315.92 L302.20,315.90 L302.39,315.89 L302.58,315.87 L302.77,315.86 L302.97,315.85 L303.16,315.84 L303.36,315.84 L303.56,315.83 L303.76,315.84 L303.96,315.84 L304.17,315.85 L304.37,315.87 L304.58,315.89 L304.80,315.91 L305.02,315.95 L305.24,315.99 L305.46,316.03 L305.69,316.09 L305.92,316.15 L306.15,316.22 L306.39,316.30 L306.63,316.39 L306.87,316.48 L307.12,316.59 L307.38,316.71 L307.64,316.84 L307.90,316.98 L308.17,317.14 L308.44,317.30 L308.72,317.48 L309.00,317.67 L309.29,317.87 L309.58,318.09 L309.88,318.32 L310.18,318.56 L310.49,318.82 L310.80,319.08 L311.12,319.37 L311.44,319.66 L311.77,319.97 L312.10,320.30 L312.44,320.63 L312.78,320.98 L313.13,321.35 L313.48,321.72 L313.84,322.11 L314.20,322.50 L314.56,322.91 L314.93,323.33 L315.30,323.77 L315.68,324.21 L316.06,324.66 L316.44,325.11 L316.83,325.58 L317.22,326.05 L317.61,326.54 L318.00,327.02 L318.40,327.51 L318.80,328.01 L319.19,328.51 L319.59,329.01 L320.00,329.52 L320.40,330.03 L320.80,330.54 L321.20,331.04 L321.60,331.55 L322.00,332.06 L322.41,332.56 L322.81,333.06 L323.20,333.56 L323.60,334.05 L324.00,334.53 L324.39,335.01 L324.78,335.49 L325.17,335.95 L325.55,336.41 L325.94,336.86 L326.32,337.30 L326.69,337.73 L327.06,338.15 L327.43,338.56 L327.80,338.96 L328.16,339.35 L328.52,339.73 L328.87,340.10 L329.22,340.45 L329.56,340.79 L329.90,341.12 L330.24,341.44 L330.57,341.74 L330.90,342.03 L331.22,342.31 L331.54,342.58 L331.85,342.83 L332.16,343.07 L332.46,343.30 L332.76,343.52 L333.06,343.73 L333.35,343.92 L333.63,344.10 L333.92,344.28 L334.20,344.44 L334.47,344.59 L334.74,344.73 L335.01,344.86 L335.27,344.99 L335.53,345.10 L335.79,345.21 L336.04,345.30 L336.29,345.39 L336.54,345.48 L336.78,345.55 L337.02,345.62 L337.26,345.69 L337.50,345.74 L337.73,345.80 L337.96,345.84 L338.19,345.89 L338.42,345.92 L338.64,345.96 L338.87,345.99 L339.09,346.02 L339.30,346.04 L339.52,346.06 L339.74,346.08 L339.95,346.10 L340.16,346.11 L340.37,346.12 L340.58,346.13 L340.79,346.14 L340.99,346.14 L341.19,346.14 L341.40,346.14 L341.60,346.14 L341.79,346.14 L341.99,346.13 L342.19,346.12 L342.38,346.11 L342.57,346.10 L342.76,346.09 L342.95,346.07 L343.14,346.05 L343.32,346.03 L343.51,346.00 L343.69,345.98 L343.87,345.95 L344.04,345.91 L344.22,345.87 L344.40,345.83 L344.57,345.79 L344.74,345.74 L344.91,345.69 L345.07,345.63 L345.24,345.57 L345.40,345.51 L345.56,345.44 L345.72,345.37 L345.88,345.29 L346.03,345.21 L346.18,345.13 L346.33,345.04 L346.48,344.95 L346.63,344.85 L346.78,344.75 L346.92,344.64 L347.06,344.53 L347.20,344.42 L347.34,344.30 L347.48,344.18 L347.61,344.06 L347.75,343.93 L347.88,343.81 L348.01,343.67 L348.14,343.54 L348.27,343.41 L348.40,343.27 L348.53,343.13 L348.66,342.99 L348.79,342.85 L348.91,342.71 L349.04,342.56 L349.17,342.42 L349.29,342.28 L349.42,342.14 L349.55,341.99 L349.67,341.85 L349.80,341.72 L349.93,341.58 L350.06,341.44 L350.19,341.31 L350.32,341.18 L350.45,341.05 L350.58,340.92 L350.71,340.80 L350.85,340.68 L350.98,340.56 L351.12,340.45 L351.25,340.34 L351.39,340.23 L351.53,340.13 L351.68,340.03 L351.82,339.94 L351.96,339.84 L352.11,339.76 L352.26,339.67 L352.41,339.59 L352.56,339.51 L352.71,339.44 L352.86,339.37 L353.02,339.30 L353.18,339.24 L353.33,339.18 L353.49,339.12 L353.66,339.06 L353.82,339.01 L353.98,338.96 L354.15,338.91 L354.31,338.87 L354.48,338.82 L354.65,338.78 L354.82,338.74 L354.99,338.70 L355.16,338.66 L355.33,338.63 L355.50,338.59 L355.68,338.56 L355.85,338.52 L356.03,338.49 L356.21,338.46 L356.39,338.43 L356.57,338.39 L356.75,338.36 L356.93,338.34 L357.11,338.31 L357.29,338.28 L357.48,338.25 L357.66,338.23 L357.85,338.20 L358.04,338.18 L358.23,338.16 L358.42,338.14 L358.61,338.12 L358.81,338.11 L359.01,338.10 L359.20,338.09 L359.40,338.08 L359.61,338.08 L359.81,338.08 L360.02,338.09 L360.23,338.10 L360.45,338.12 L360.66,338.14 L360.88,338.17 L361.10,338.21 L361.33,338.25 L361.56,338.31 L361.79,338.37 L362.03,338.43 L362.27,338.51 L362.51,338.60 L362.76,338.70 L363.02,338.80 L363.27,338.92 L363.54,339.05 L363.80,339.19 L364.08,339.35 L364.35,339.51 L364.63,339.69 L364.92,339.88 L365.21,340.09 L365.51,340.31 L365.81,340.54 L366.12,340.78 L366.43,341.04 L366.75,341.31 L367.07,341.60 L367.40,341.90 L367.73,342.21 L368.07,342.54 L368.41,342.87 L368.76,343.23 L369.11,343.59 L369.47,343.97 L369.83,344.36 L370.19,344.76 L370.56,345.17 L370.94,345.60 L371.32,346.03 L371.70,346.47 L372.08,346.93 L372.47,347.39 L372.86,347.86 L373.26,348.33 L373.66,348.82 L374.05,349.31 L374.46,349.80 L374.86,350.30 L375.26,350.80 L375.67,351.31 L376.08,351.81 L376.48,352.32 L376.89,352.83 L377.30,353.34 L377.71,353.85 L378.11,354.35 L378.52,354.85 L378.92,355.35 L379.33,355.85 L379.73,356.34 L380.13,356.82 L380.53,357.30 L380.92,357.77 L381.32,358.23 L381.71,358.69 L382.10,359.14 L382.48,359.57 L382.86,360.00 L383.24,360.42 L383.61,360.83 L383.98,361.22 L384.35,361.61 L384.71,361.98 L385.07,362.34 L385.43,362.69 L385.78,363.02 L386.12,363.35 L386.46,363.66 L386.80,363.95 L387.13,364.24 L387.46,364.51 L387.78,364.77 L388.10,365.02 L388.42,365.26 L388.73,365.48 L389.03,365.69 L389.33,365.89 L389.63,366.08 L389.92,366.26 L390.21,366.42 L390.50,366.58 L390.78,366.73 L391.06,366.86 L391.33,366.99 L391.60,367.10 L391.87,367.21 L392.13,367.31 L392.39,367.40 L392.65,367.49 L392.91,367.57 L393.16,367.64 L393.41,367.70 L393.66,367.76 L393.90,367.81 L394.14,367.86 L394.38,367.90 L394.62,367.94 L394.86,367.98 L395.09,368.01 L395.33,368.04 L395.56,368.06 L395.79,368.08 L396.01,368.10 L396.24,368.11 L396.46,368.12 L396.69,368.13 L396.91,368.14 L397.13,368.15 L397.34,368.15 L397.56,368.15 L397.78,368.15 L397.99,368.15 L398.20,368.15 L398.41,368.14 L398.62,368.14 L398.83,368.13 L399.04,368.11 L399.24,368.10 L399.45,368.08 L399.65,368.06 L399.85,368.04 L400.05,368.02 L400.24,367.99 L400.44,367.96 L400.63,367.93 L400.83,367.89 L401.02,367.86 L401.21,367.81 L401.39,367.77 L401.58,367.72 L401.76,367.66 L401.94,367.61 L402.12,367.54 L402.30,367.48 L402.47,367.41 L402.65,367.33 L402.82,367.26 L402.99,367.17 L403.16,367.09 L403.32,367.00 L403.49,366.90 L403.65,366.80 L403.81,366.70 L403.97,366.60 L404.13,366.49 L404.28,366.37 L404.44,366.25 L404.59,366.13 L404.74,366.01 L404.89,365.88 L405.04,365.75 L405.19,365.62 L405.34,365.49 L405.49,365.35 L405.63,365.22 L405.78,365.08 L405.92,364.94 L406.06,364.80 L406.21,364.65 L406.35,364.51 L406.49,364.37 L406.64,364.23 L406.78,364.09 L406.92,363.95 L407.07,363.81 L407.21,363.67 L407.36,363.54 L407.50,363.41 L407.65,363.28 L407.79,363.15 L407.94,363.02 L408.09,362.90 L408.24,362.78 L408.39,362.66 L408.54,362.55 L408.70,362.44 L408.85,362.33 L409.01,362.23 L409.16,362.13 L409.32,362.03 L409.48,361.94 L409.64,361.86 L409.81,361.77 L409.97,361.69 L410.14,361.61 L410.30,361.54 L410.47,361.47 L410.64,361.41 L410.81,361.34 L410.99,361.28 L411.16,361.23 L411.33,361.17 L411.51,361.12 L411.69,361.08 L411.87,361.03 L412.05,360.99 L412.23,360.95 L412.41,360.91 L412.59,360.87 L412.78,360.83 L412.96,360.80 L413.15,360.77 L413.34,360.73 L413.52,360.70 L413.71,360.67 L413.90,360.64 L414.09,360.62 L414.28,360.59 L414.48,360.56 L414.67,360.54 L414.86,360.51 L415.06,360.49 L415.25,360.46 L415.45,360.44 L415.64,360.42 L415.84,360.40 L416.04,360.38 L416.24,360.36 L416.44,360.35 L416.64,360.33 L416.85,360.32 L417.06,360.31 L417.26,360.31 L417.47,360.31 L417.68,360.31 L417.90,360.31 L418.11,360.32 L418.33,360.34 L418.55,360.36 L418.78,360.38 L419.00,360.41 L419.23,360.45 L419.46,360.49 L419.70,360.55 L419.94,360.61 L420.18,360.68 L420.42,360.75 L420.67,360.84 L420.93,360.94 L421.18,361.05 L421.45,361.16 L421.71,361.29 L421.98,361.43 L422.26,361.59 L422.54,361.75 L422.82,361.93 L423.11,362.12 L423.40,362.33 L423.70,362.54 L424.01,362.77 L424.32,363.02 L424.63,363.28 L424.95,363.55 L425.27,363.83 L425.60,364.13 L425.94,364.45 L426.28,364.77 L426.62,365.12 L426.97,365.47 L427.32,365.84 L427.68,366.22 L428.04,366.61 L428.41,367.01 L428.78,367.43 L429.16,367.86 L429.53,368.30 L429.92,368.74 L430.30,369.20 L430.69,369.67 L431.09,370.15 L431.48,370.63 L431.88,371.12 L432.28,371.62 L432.68,372.12 L433.08,372.63 L433.49,373.14 L433.90,373.66 L434.30,374.17 L434.71,374.69 L435.12,375.22 L435.53,375.74 L435.94,376.26 L436.35,376.78 L436.76,377.29 L437.16,377.81 L437.57,378.32 L437.97,378.82 L438.37,379.32 L438.77,379.82 L439.17,380.31 L439.56,380.79 L439.96,381.26 L440.35,381.72 L440.73,382.18 L441.11,382.62 L441.49,383.06 L441.87,383.49 L442.24,383.90 L442.61,384.30 L442.97,384.69 L443.33,385.07 L443.68,385.44 L444.03,385.79 L444.38,386.14 L444.72,386.47 L445.06,386.78 L445.39,387.09 L445.72,387.38 L446.04,387.66 L446.36,387.92 L446.67,388.17 L446.98,388.42 L447.29,388.64 L447.59,388.86 L447.88,389.06 L448.17,389.26 L448.46,389.44 L448.74,389.61 L449.02,389.77 L449.30,389.92 L449.57,390.06 L449.84,390.19 L450.10,390.32 L450.36,390.43 L450.62,390.54 L450.88,390.63 L451.13,390.72 L451.37,390.81 L451.62,390.88 L451.86,390.95 L452.10,391.02 L452.34,391.08 L452.58,391.13 L452.81,391.18 L453.04,391.22 L453.27,391.26 L453.50,391.30 L453.72,391.33 L453.95,391.36 L454.17,391.39 L454.39,391.41 L454.60,391.44 L454.82,391.46 L455.04,391.47 L455.25,391.49 L455.46,391.50 L455.67,391.51 L455.88,391.52 L456.09,391.53 L456.30,391.53 L456.50,391.53 L456.70,391.54 L456.90,391.53 L457.10,391.53 L457.30,391.53 L457.50,391.52 L457.70,391.51 L457.89,391.50 L458.08,391.48 L458.27,391.47 L458.46,391.45 L458.65,391.42 L458.83,391.40 L459.02,391.37 L459.20,391.34 L459.38,391.30 L459.56,391.26 L459.73,391.22 L459.91,391.17 L460.08,391.12 L460.25,391.07 L460.42,391.01 L460.59,390.94 L460.75,390.88 L460.91,390.81 L461.07,390.73 L461.23,390.65 L461.39,390.57 L461.55,390.48 L461.70,390.39 L461.85,390.29 L462.00,390.19 L462.15,390.09 L462.30,389.99 L462.44,389.88 L462.59,389.76 L462.73,389.65 L462.87,389.53 L463.01,389.41 L463.15,389.29 L463.29,389.16 L463.43,389.04 L463.57,388.91 L463.71,388.78 L463.84,388.65 L463.98,388.52 L464.11,388.39 L464.25,388.26 L464.38,388.13 L464.52,388.00 L464.66,387.87 L464.79,387.74 L464.93,387.61 L465.07,387.49 L465.20,387.37 L465.34,387.25 L465.48,387.13 L465.62,387.01 L465.76,386.90 L465.90,386.79 L466.05,386.69 L466.19,386.58 L466.34,386.49 L466.49,386.39 L466.64,386.30 L466.79,386.21 L466.94,386.13 L467.09,386.05 L467.25,385.98 L467.40,385.91 L467.56,385.84 L467.72,385.78 L467.88,385.72 L468.05,385.67 L468.21,385.61 L468.38,385.57 L468.54,385.52 L468.71,385.48 L468.88,385.45 L469.06,385.41 L469.23,385.38 L469.40,385.36 L469.58,385.33 L469.76,385.31 L469.94,385.29 L470.12,385.27 L470.30,385.25 L470.48,385.24 L470.66,385.23 L470.85,385.22 L471.03,385.21 L471.22,385.20 L471.40,385.19 L471.59,385.19 L471.78,385.18 L471.97,385.18 L472.16,385.17 L472.36,385.17 L472.55,385.17 L472.74,385.17 L472.94,385.18 L473.13,385.18 L473.33,385.18 L473.53,385.19 L473.73,385.20 L473.93,385.21 L474.14,385.22 L474.34,385.23 L474.55,385.25 L474.76,385.27 L474.97,385.30 L475.18,385.32 L475.40,385.36 L475.61,385.39 L475.83,385.43 L476.05,385.48 L476.28,385.53 L476.51,385.59 L476.74,385.66 L476.97,385.73 L477.21,385.81 L477.45,385.90 L477.70,385.99 L477.95,386.10 L478.20,386.21 L478.45,386.34 L478.72,386.47 L478.98,386.62 L479.25,386.78 L479.52,386.95 L479.80,387.13 L480.09,387.32 L480.38,387.53 L480.67,387.75 L480.97,387.98 L481.27,388.23 L481.58,388.49 L481.89,388.76 L482.21,389.05 L482.54,389.35 L482.87,389.67 L483.20,390.00 L483.55,390.34 L483.89,390.70 L484.24,391.07 L484.60,391.46 L484.96,391.86 L485.33,392.27 L485.70,392.69 L486.07,393.13 L486.45,393.58 L486.84,394.04 L487.23,394.52 L487.62,395.00 L488.01,395.50 L488.41,396.00 L488.82,396.51 L489.22,397.03 L489.63,397.56 L490.05,398.10 L490.46,398.64 L490.88,399.19 L491.30,399.74 L491.72,400.29 L492.14,400.85 L492.56,401.41 L492.98,401.98 L493.41,402.54 L493.83,403.10 L494.25,403.66 L494.68,404.22 L495.10,404.78 L495.52,405.34 L495.94,405.88 L496.36,406.43 L496.77,406.97 L497.19,407.50 L497.60,408.03 L498.01,408.54 L498.42,409.05 L498.82,409.55 L499.22,410.04 L499.62,410.52 L500.01,410.99 L500.40,411.45 L500.79,411.90 L501.17,412.33 L501.55,412.76 L501.93,413.17 L502.30,413.56 L502.66,413.95 L503.02,414.32 L503.38,414.68 L503.73,415.03 L504.08,415.36 L504.42,415.68 L504.76,415.98 L505.09,416.27 L505.42,416.55 L505.74,416.82 L506.07,417.07 L506.38,417.32 L506.69,417.54 L507.00,417.76 L507.30,417.97 L507.60,418.16 L507.90,418.34 L508.19,418.52 L508.48,418.68 L508.76,418.83 L509.04,418.97 L509.32,419.11 L509.59,419.23 L509.86,419.35 L510.13,419.46 L510.40,419.56 L510.66,419.66 L510.92,419.74 L511.17,419.82 L511.43,419.90 L511.68,419.97 L511.93,420.03 L512.18,420.09 L512.43,420.15 L512.67,420.20 L512.91,420.25 L513.15,420.29 L513.39,420.33 L513.63,420.37 L513.87,420.40 L514.10,420.43 L514.33,420.45 L514.57,420.48 L514.80,420.50 L515.02,420.52 L515.25,420.53 L515.48,420.55 L515.70,420.56 L515.92,420.57 L516.14,420.57 L516.36,420.58 L516.58,420.58 L516.80,420.57 L517.01,420.57 L517.23,420.56 L517.44,420.55 L517.65,420.53 L517.86,420.51 L518.06,420.49 L518.27,420.46 L518.47,420.43 L518.67,420.40 L518.87,420.36 L519.07,420.32 L519.27,420.28 L519.46,420.23 L519.65,420.17 L519.84,420.11 L520.03,420.05 L520.22,419.98 L520.40,419.91 L520.58,419.83 L520.76,419.74 L520.94,419.66 L521.12,419.56 L521.29,419.47 L521.46,419.37 L521.63,419.26 L521.80,419.15 L521.97,419.04 L522.13,418.92 L522.30,418.80 L522.46,418.67 L522.62,418.54 L522.78,418.41 L522.94,418.27 L523.09,418.13 L523.25,417.99 L523.40,417.85 L523.56,417.70 L523.71,417.55 L523.86,417.40 L524.01,417.25 L524.16,417.10 L524.31,416.95 L524.46,416.80 L524.61,416.64 L524.76,416.49 L524.91,416.34 L525.07,416.19 L525.22,416.04 L525.37,415.90 L525.52,415.75 L525.67,415.61 L525.82,415.47 L525.98,415.33 L526.13,415.19 L526.29,415.06 L526.45,414.93 L526.60,414.81 L526.76,414.68 L526.92,414.56 L527.08,414.45 L527.25,414.34 L527.41,414.23 L527.58,414.13 L527.74,414.03 L527.91,413.93 L528.08,413.84 L528.25,413.75 L528.42,413.66 L528.60,413.58 L528.77,413.51 L528.95,413.43 L529.12,413.36 L529.30,413.30 L529.48,413.23 L529.66,413.17 L529.85,413.11 L530.03,413.06 L530.21,413.01 L530.40,412.96 L530.58,412.91 L530.77,412.86 L530.96,412.82 L531.15,412.77 L531.34,412.73 L531.53,412.69 L531.72,412.66 L531.91,412.62 L532.10,412.58 L532.29,412.55 L532.49,412.52 L532.68,412.48 L532.88,412.45 L533.07,412.42 L533.27,412.39 L533.46,412.37 L533.66,412.34 L533.86,412.31 L534.06,412.29 L534.26,412.27 L534.46,412.25 L534.66,412.23 L534.87,412.21 L535.07,412.20 L535.28,412.19 L535.49,412.19 L535.70,412.18 L535.91,412.18 L536.12,412.19 L536.34,412.20 L536.55,412.21 L536.77,412.23 L537.00,412.26 L537.22,412.30 L537.45,412.34 L537.68,412.38 L537.91,412.44 L538.15,412.50 L538.39,412.58 L538.64,412.66 L538.88,412.75 L539.13,412.86 L539.39,412.97 L539.65,413.10 L539.91,413.23 L540.18,413.38 L540.46,413.54 L540.73,413.72 L541.02,413.91 L541.30,414.11 L541.59,414.32 L541.89,414.55 L542.19,414.79 L542.50,415.05 L542.81,415.32 L543.13,415.60 L543.45,415.90 L543.78,416.22 L544.11,416.55 L544.45,416.89 L544.80,417.25 L545.14,417.62 L545.50,418.00 L545.85,418.40 L546.22,418.81 L546.58,419.23 L546.95,419.67 L547.33,420.12 L547.71,420.58 L548.09,421.05 L548.48,421.53 L548.87,422.02 L549.26,422.52 L549.66,423.02 L550.06,423.54 L550.46,424.06 L550.87,424.59 L551.27,425.12 L551.68,425.66 L552.09,426.20 L552.50,426.75 L552.91,427.29 L553.33,427.84 L553.74,428.39 L554.15,428.94 L554.56,429.48 L554.98,430.03 L555.39,430.57 L555.80,431.11 L556.21,431.64 L556.61,432.17 L557.02,432.70 L557.42,433.21 L557.82,433.72 L558.22,434.22 L558.61,434.71 L559.01,435.20 L559.40,435.67 L559.78,436.13 L560.16,436.59 L560.54,437.03 L560.92,437.46 L561.29,437.88 L561.65,438.28 L562.02,438.67 L562.37,439.05 L562.73,439.42 L563.08,439.78 L563.42,440.12 L563.76,440.44 L564.10,440.76 L564.43,441.06 L564.76,441.35 L565.08,441.62 L565.40,441.88 L565.71,442.13 L566.02,442.37 L566.33,442.59 L566.63,442.81 L566.93,443.01 L567.22,443.19 L567.51,443.37 L567.80,443.54 L568.08,443.70 L568.36,443.84 L568.64,443.98 L568.91,444.11 L569.18,444.22 L569.45,444.33 L569.71,444.44 L569.97,444.53 L570.23,444.62 L570.49,444.70 L570.74,444.77 L571.00,444.84 L571.25,444.90 L571.49,444.96 L571.74,445.01 L571.99,445.06 L572.23,445.10 L572.47,445.14 L572.71,445.18 L572.95,445.21 L573.19,445.24 L573.43,445.26 L573.66,445.28 L573.90,445.30 L574.13,445.32 L574.36,445.34 L574.59,445.35 L574.82,445.36 L575.05,445.36 L575.28,445.37 L575.51,445.37 L575.73,445.37 L575.96,445.37 L576.18,445.36 L576.41,445.35 L576.63,445.34 L576.85,445.33 L577.07,445.31 L577.29,445.29 L577.50,445.27 L577.72,445.25 L577.93,445.22 L578.15,445.18 L578.36,445.15 L578.57,445.11 L578.78,445.06 L578.99,445.01 L579.19,444.96 L579.40,444.90 L579.60,444.84 L579.80,444.78 L580.00,444.71 L580.20,444.63 L580.39,444.55 L580.59,444.47 L580.78,444.38 L580.97,444.29 L581.16,444.19 L581.35,444.09 L581.54,443.98 L581.72,443.87 L581.90,443.75 L582.09,443.63 L582.27,443.51 L582.44,443.38 L582.62,443.25 L582.80,443.11 L582.97,442.98 L583.15,442.84 L583.32,442.69 L583.49,442.54 L583.66,442.40 L583.84,442.25 L584.01,442.09 L584.18,441.94 L584.34,441.79 L584.51,441.63 L584.68,441.47 L584.85,441.32 L585.02,441.16 L585.19,441.01 L585.36,440.85 L585.53,440.70 L585.70,440.55 L585.87,440.40 L586.04,440.25 L586.21,440.10 L586.39,439.96 L586.56,439.82 L586.74,439.68 L586.91,439.55 L587.09,439.41 L587.27,439.28 L587.45,439.16 L587.63,439.04 L587.81,438.92 L587.99,438.81 L588.18,438.70 L588.37,438.59 L588.55,438.49 L588.74,438.39 L588.93,438.29 L589.12,438.20 L589.32,438.11 L589.51,438.03 L589.71,437.95 L589.91,437.87 L590.10,437.80 L590.30,437.73 L590.50,437.66 L590.71,437.60 L590.91,437.53 L591.11,437.48 L591.32,437.42 L591.52,437.36 L591.73,437.31 L591.94,437.26 L592.14,437.21 L592.35,437.16 L592.56,437.11 L592.77,437.07 L592.98,437.02 L593.19,436.98 L593.40,436.94 L593.62,436.90 L593.83,436.86 L594.04,436.82 L594.25,436.78 L594.47,436.74 L594.68,436.70 L594.90,436.67 L595.11,436.63 L595.33,436.60 L595.54,436.57 L595.76,436.53 L595.98,436.50 L596.20,436.48 L596.42,436.45 L596.64,436.43 L596.86,436.41 L597.09,436.39 L597.31,436.38 L597.54,436.37 L597.77,436.36 L598.00,436.36 L598.23,436.37 L598.46,436.38 L598.70,436.40 L598.94,436.42 L599.18,436.45 L599.43,436.49 L599.67,436.53 L599.92,436.58 L600.18,436.65 L600.44,436.72 L600.70,436.80 L600.96,436.90 L601.23,437.00 L601.50,437.11 L601.78,437.24 L602.06,437.38 L602.34,437.53 L602.63,437.70 L602.93,437.87 L603.23,438.06 L603.53,438.27 L603.84,438.49 L604.15,438.72 L604.47,438.97 L604.79,439.23 L605.12,439.50 L605.45,439.79 L605.79,440.10 L606.13,440.42 L606.48,440.75 L606.84,441.10 L607.19,441.46 L607.56,441.84 L607.92,442.23 L608.29,442.63 L608.67,443.04 L609.05,443.47 L609.43,443.91 L609.82,444.36 L610.21,444.82 L610.61,445.29 L611.01,445.76 L611.41,446.25 L611.81,446.75 L612.22,447.25 L612.63,447.76 L613.04,448.28 L613.45,448.80 L613.86,449.33 L614.28,449.86 L614.70,450.39 L615.11,450.92 L615.53,451.46 L615.95,451.99 L616.36,452.53 L616.78,453.06 L617.20,453.59 L617.61,454.12 L618.02,454.64 L618.44,455.16 L618.85,455.68 L619.25,456.18 L619.66,456.68 L620.06,457.18 L620.46,457.66 L620.86,458.14 L621.25,458.60 L621.64,459.06 L622.03,459.50 L622.41,459.94 L622.79,460.36 L623.16,460.77 L623.54,461.17 L623.90,461.56 L624.26,461.94 L624.62,462.30 L624.97,462.65 L625.32,462.98 L625.67,463.30 L626.01,463.61 L626.34,463.91 L626.67,464.19 L627.00,464.46 L627.32,464.71 L627.63,464.96 L627.95,465.19 L628.25,465.41 L628.56,465.61 L628.86,465.81 L629.15,465.99 L629.44,466.16 L629.73,466.32 L630.02,466.47 L630.30,466.61 L630.57,466.74 L630.84,466.86 L631.11,466.97 L631.38,467.07 L631.65,467.16 L631.91,467.25 L632.17,467.33 L632.42,467.40 L632.67,467.47 L632.93,467.53 L633.18,467.58 L633.42,467.63 L633.67,467.67 L633.91,467.71 L634.15,467.75 L634.39,467.78 L634.63,467.81 L634.87,467.83 L635.10,467.85 L635.34,467.87 L635.57,467.88 L635.80,467.90 L636.03,467.91 L636.26,467.91 L636.49,467.92 L636.72,467.92 L636.95,467.92 L637.17,467.92 L637.40,467.92 L637.62,467.91 L637.85,467.91 L638.07,467.90 L638.29,467.89 L638.51,467.87 L638.73,467.86 L638.94,467.84 L639.16,467.82 L639.37,467.79 L639.59,467.77 L639.80,467.74 L640.01,467.71 L640.22,467.67 L640.43,467.63 L640.64,467.59 L640.84,467.54 L641.05,467.49 L641.25,467.44 L641.45,467.38 L641.65,467.31 L641.85,467.25 L642.04,467.18 L642.23,467.10 L642.43,467.02 L642.62,466.94 L642.81,466.85 L642.99,466.76 L643.18,466.66 L643.36,466.56 L643.55,466.45 L643.73,466.34 L643.91,466.23 L644.09,466.11 L644.26,465.99 L644.44,465.86 L644.61,465.74 L644.79,465.60 L644.96,465.47 L645.13,465.33 L645.30,465.19 L645.47,465.05 L645.64,464.91 L645.80,464.76 L645.97,464.62 L646.14,464.47 L646.30,464.32 L646.47,464.18 L646.64,464.03 L646.80,463.88 L646.97,463.73 L647.14,463.59 L647.31,463.44 L647.47,463.30 L647.64,463.15 L647.81,463.01 L647.98,462.88 L648.15,462.74 L648.32,462.61 L648.50,462.48 L648.67,462.35 L648.84,462.23 L649.02,462.11 L649.20,462.00 L649.38,461.88 L649.56,461.78 L649.74,461.67 L649.92,461.57 L650.11,461.48 L650.29,461.38 L650.48,461.30 L650.67,461.21 L650.86,461.13 L651.05,461.06 L651.24,460.99 L651.44,460.92 L651.63,460.85 L651.83,460.79 L652.03,460.74 L652.23,460.68 L652.43,460.63 L652.63,460.58 L652.84,460.54 L653.04,460.50 L653.25,460.46 L653.45,460.42 L653.66,460.38 L653.87,460.35 L654.08,460.32 L654.29,460.29 L654.50,460.26 L654.71,460.23 L654.92,460.21 L655.13,460.18 L655.35,460.16 L655.56,460.14 L655.78,460.11 L655.99,460.09 L656.21,460.07 L656.42,460.05 L656.64,460.04 L656.86,460.02 L657.07,460.00 L657.29,459.99 L657.51,459.98 L657.73,459.97 L657.95,459.96 L658.18,459.95 L658.40,459.95 L658.63,459.94 L658.85,459.95 L659.08,459.95 L659.31,459.96 L659.54,459.97 L659.77,459.99 L660.01,460.01 L660.25,460.04 L660.49,460.07 L660.73,460.11 L660.97,460.16 L661.22,460.21 L661.47,460.28 L661.73,460.35 L661.98,460.43 L662.24,460.51 L662.51,460.61 L662.77,460.72 L663.05,460.84 L663.32,460.97 L663.60,461.11 L663.89,461.27 L664.17,461.43 L664.47,461.61 L664.77,461.80 L665.07,462.01 L665.38,462.23 L665.69,462.46 L666.01,462.71 L666.33,462.97 L666.66,463.25 L666.99,463.54 L667.33,463.85 L667.67,464.17 L668.02,464.51 L668.37,464.86 L668.73,465.22 L669.09,465.60 L669.46,465.99 L669.84,466.40 L670.21,466.82 L670.60,467.25 L670.98,467.69 L671.37,468.15 L671.77,468.62 L672.17,469.10 L672.57,469.59 L672.98,470.09 L673.39,470.60 L673.80,471.12 L674.21,471.64 L674.63,472.18 L675.05,472.72 L675.47,473.26 L675.90,473.81 L676.32,474.37 L676.75,474.92 L677.18,475.48 L677.60,476.04 L678.03,476.60 L678.46,477.17 L678.89,477.73 L679.32,478.28 L679.74,478.84 L680.17,479.39 L680.59,479.94 L681.01,480.48 L681.43,481.02 L681.85,481.55 L682.27,482.07 L682.68,482.58 L683.09,483.09 L683.50,483.59 L683.90,484.07 L684.30,484.55 L684.70,485.01 L685.09,485.47 L685.48,485.91 L685.87,486.34 L686.25,486.75 L686.62,487.16 L686.99,487.55 L687.36,487.93 L687.72,488.29 L688.08,488.64 L688.44,488.98 L688.79,489.30 L689.13,489.61 L689.47,489.91 L689.80,490.19 L690.13,490.46 L690.46,490.71 L690.78,490.96 L691.10,491.19 L691.41,491.40 L691.72,491.61 L692.03,491.80 L692.33,491.99 L692.62,492.16 L692.92,492.32 L693.21,492.47 L693.49,492.61 L693.78,492.74 L694.06,492.86 L694.33,492.97 L694.61,493.07 L694.88,493.17 L695.15,493.26 L695.41,493.34 L695.68,493.41 L695.94,493.48 L696.20,493.54 L696.45,493.60 L696.71,493.65 L696.96,493.70 L697.21,493.74 L697.46,493.78 L697.71,493.81 L697.96,493.84 L698.21,493.87 L698.45,493.89 L698.69,493.91 L698.94,493.93 L699.18,493.95 L699.42,493.96 L699.66,493.97 L699.89,493.98 L700.13,493.98 L700.37,493.98 L700.60,493.98 L700.84,493.98 L701.07,493.98 L701.30,493.97 L701.53,493.96 L701.76,493.95 L701.99,493.93 L702.22,493.91 L702.44,493.89 L702.67,493.87 L702.89,493.84 L703.11,493.81 L703.33,493.77 L703.55,493.74 L703.77,493.69 L703.99,493.65 L704.20,493.60 L704.41,493.54 L704.62,493.48 L704.83,493.42 L705.04,493.35 L705.25,493.28 L705.45,493.21 L705.66,493.12 L705.86,493.04 L706.06,492.95 L706.26,492.85 L706.45,492.75 L706.65,492.65 L706.84,492.54 L707.03,492.43 L707.22,492.31 L707.41,492.19 L707.59,492.06 L707.78,491.93 L707.96,491.80 L708.15,491.66 L708.33,491.52 L708.51,491.38 L708.69,491.23 L708.86,491.08 L709.04,490.93 L709.22,490.78 L709.40,490.62 L709.57,490.47 L709.75,490.31 L709.92,490.15 L710.10,490.00 L710.27,489.84 L710.44,489.68 L710.62,489.52 L710.79,489.37 L710.97,489.21 L711.15,489.06 L711.32,488.91 L711.50,488.76 L711.68,488.61 L711.86,488.46 L712.04,488.32 L712.22,488.18 L712.40,488.05 L712.58,487.91 L712.77,487.79 L712.95,487.66 L713.14,487.54 L713.33,487.42 L713.52,487.31 L713.71,487.20 L713.90,487.09 L714.09,486.99 L714.29,486.90 L714.48,486.80 L714.68,486.71 L714.88,486.63 L715.08,486.55 L715.28,486.47 L715.49,486.40 L715.69,486.33 L715.90,486.26 L716.11,486.20 L716.31,486.14 L716.52,486.08 L716.73,486.03 L716.94,485.98 L717.16,485.93 L717.37,485.88 L717.58,485.84 L717.80,485.80 L718.01,485.76 L718.23,485.72 L718.45,485.68 L718.67,485.64 L718.88,485.61 L719.10,485.58 L719.32,485.54 L719.54,485.51 L719.76,485.48 L719.98,485.45 L720.20,485.43 L720.42,485.40 L720.65,485.37 L720.87,485.35 L721.09,485.33 L721.32,485.31 L721.54,485.29 L721.77,485.27 L721.99,485.25 L722.22,485.24 L722.45,485.23 L722.68,485.22 L722.91,485.22 L723.15,485.22 L723.38,485.22 L723.62,485.23 L723.85,485.25 L724.09,485.27 L724.34,485.29 L724.58,485.32 L724.83,485.36 L725.08,485.41 L725.33,485.46 L725.59,485.52 L725.85,485.59 L726.11,485.67 L726.37,485.76 L726.64,485.86 L726.91,485.97 L727.19,486.09 L727.47,486.22 L727.76,486.37 L728.05,486.53 L728.34,486.70 L728.64,486.88 L728.94,487.08 L729.25,487.29 L729.56,487.52 L729.88,487.76 L730.20,488.01 L730.53,488.28 L730.86,488.56 L731.20,488.86 L731.54,489.18 L731.89,489.51 L732.24,489.85 L732.60,490.21 L732.97,490.58 L733.34,490.97 L733.71,491.37 L734.09,491.79 L734.47,492.22 L734.86,492.66 L735.25,493.12 L735.64,493.59 L736.04,494.07 L736.45,494.56 L736.85,495.06 L737.27,495.57 L737.68,496.09 L738.10,496.62 L738.52,497.16 L738.94,497.70 L739.36,498.25 L739.79,498.81 L740.21,499.37 L740.64,499.93 L741.07,500.50 L741.50,501.07 L741.94,501.64 L742.37,502.21 L742.80,502.78 L743.23,503.35 L743.66,503.92 L744.09,504.49 L744.52,505.05 L744.94,505.60 L745.37,506.16 L745.79,506.70 L746.21,507.24 L746.63,507.77 L747.04,508.29 L747.45,508.81 L747.86,509.31 L748.26,509.80 L748.67,510.29 L749.06,510.76 L749.46,511.22 L749.85,511.67 L750.23,512.10 L750.61,512.53 L750.99,512.94 L751.36,513.33 L751.73,513.72 L752.09,514.09 L752.45,514.44 L752.80,514.79 L753.15,515.12 L753.49,515.43 L753.83,515.73 L754.17,516.02 L754.50,516.30 L754.82,516.56 L755.14,516.81 L755.46,517.04 L755.77,517.27 L756.08,517.48 L756.38,517.68 L756.68,517.87 L756.98,518.04 L757.27,518.21 L757.56,518.37 L757.85,518.51 L758.13,518.65 L758.41,518.78 L758.68,518.90 L758.96,519.01 L759.23,519.11 L759.50,519.21 L759.76,519.30 L760.02,519.38 L760.28,519.46 L760.54,519.53 L760.80,519.59 L761.05,519.66 L761.31,519.71 L761.56,519.76 L761.81,519.81 L762.06,519.85 L762.30,519.89 L762.55,519.93 L762.79,519.97 L763.04,520.00 L763.28,520.02 L763.52,520.05 L763.76,520.07 L764.00,520.09 L764.24,520.11 L764.47,520.13 L764.71,520.14 L764.94,520.15 L765.18,520.16 L765.41,520.17 L765.64,520.17 L765.87,520.17 L766.10,520.17 L766.33,520.17 L766.56,520.16 L766.78,520.15 L767.01,520.14 L767.23,520.12 L767.45,520.10 L767.67,520.08 L767.89,520.05 L768.11,520.02 L768.32,519.99 L768.54,519.95 L768.75,519.90 L768.96,519.86 L769.17,519.80 L769.38,519.75 L769.59,519.69 L769.79,519.62 L769.99,519.55 L770.19,519.48 L770.39,519.40 L770.59,519.31 L770.78,519.22 L770.98,519.13 L771.17,519.03 L771.36,518.93 L771.55,518.82 L771.73,518.71 L771.92,518.60 L772.10,518.48 L772.29,518.36 L772.47,518.23 L772.65,518.10 L772.83,517.97 L773.00,517.83 L773.18,517.70 L773.36,517.56 L773.53,517.42 L773.71,517.27 L773.88,517.13 L774.06,516.98 L774.23,516.84 L774.40,516.69 L774.57,516.55 L774.75,516.40 L774.92,516.26 L775.09,516.11 L775.27,515.97 L775.44,515.83 L775.61,515.69 L775.79,515.55 L775.97,515.42 L776.14,515.29 L776.32,515.16 L776.50,515.03 L776.68,514.91 L776.86,514.79 L777.04,514.67 L777.22,514.56 L777.40,514.45 L777.59,514.35 L777.78,514.25 L777.96,514.15 L778.15,514.06 L778.34,513.97 L778.53,513.89 L778.73,513.81 L778.92,513.73 L779.12,513.66 L779.31,513.59 L779.51,513.53 L779.71,513.47 L779.91,513.41 L780.11,513.36 L780.31,513.31 L780.51,513.26 L780.72,513.22 L780.92,513.17 L781.13,513.13 L781.33,513.10 L781.54,513.06 L781.75,513.03 L781.96,513.00 L782.17,512.97 L782.38,512.94 L782.58,512.91 L782.79,512.89 L783.01,512.86 L783.22,512.84 L783.43,512.82 L783.64,512.80 L783.85,512.78 L784.06,512.76 L784.27,512.74 L784.49,512.72 L784.70,512.71 L784.91,512.69 L785.13,512.68 L785.34,512.66 L785.56,512.65 L785.77,512.64 L785.99,512.64 L786.20,512.63 L786.42,512.63 L786.66,512.63 L786.89,512.64 L787.13,512.65 L787.37,512.66 L787.61,512.68 L787.85,512.70 L788.10,512.72 L788.35,512.76 L788.60,512.80 L788.85,512.84 L789.10,512.90 L789.36,512.96 L789.62,513.03 L789.88,513.11 L790.15,513.20 L790.41,513.29 L790.69,513.40 L790.96,513.52 L791.24,513.65 L791.53,513.80 L791.82,513.95 L792.11,514.12 L792.40,514.30 L792.71,514.49 L793.01,514.70 L793.32,514.92 L793.64,515.16 L793.96,515.41 L794.28,515.68 L794.61,515.96 L794.95,516.25 L795.29,516.56 L795.64,516.89 L795.99,517.23 L796.34,517.58 L796.70,517.95 L797.07,518.34 L797.44,518.74 L797.82,519.15 L798.20,519.58 L798.58,520.02 L798.97,520.47 L799.36,520.94 L799.76,521.42 L800.16,521.91 L800.57,522.41 L800.98,522.92 L801.39,523.44 L801.80,523.97 L802.22,524.51 L802.64,525.06 L803.06,525.61 L803.49,526.17 L803.91,526.73 L804.34,527.30 L804.77,527.87 L805.20,528.45 L805.63,529.02" fill="none" stroke="#b0b1ac" stroke-width="1"/>
<path d="M130.00,256.85 L130.39,256.53 L130.78,256.18 L131.16,255.82 L131.53,255.45 L131.91,255.07 L132.28,254.70 L132.65,254.32 L133.03,253.96 L133.42,253.61 L133.80,253.27 L134.20,252.96 L134.60,252.67 L135.02,252.40 L135.44,252.16 L135.87,251.94 L136.30,251.75 L136.75,251.58 L137.20,251.43 L137.66,251.29 L138.12,251.17 L138.58,251.06 L139.05,250.96 L139.53,250.87 L140.00,250.78 L140.47,250.70 L140.95,250.62 L141.43,250.56 L141.92,250.50 L142.41,250.46 L142.91,250.45 L143.52,250.50 L144.14,250.59 L144.78,250.72 L145.43,250.91 L146.11,251.15 L146.80,251.47 L147.52,251.86 L148.27,252.33 L149.05,252.89 M178.44,280.57 L179.02,280.56 L179.57,280.52 L180.11,280.44 L180.63,280.33 L181.12,280.18 L181.60,279.99 L182.05,279.74 L182.48,279.44 L182.89,279.10 L183.28,278.70 L183.65,278.27 L184.01,277.81 L184.37,277.32 L184.72,276.82 L185.08,276.33 L185.44,275.85 L185.81,275.40 L186.20,274.98 L186.61,274.60 L187.03,274.26 L187.48,273.97 L187.95,273.71 L188.44,273.50 L188.95,273.32 L189.48,273.17 L190.02,273.04 L190.59,272.92 L191.17,272.81 L191.76,272.72 L192.38,272.64 L193.01,272.58 L193.67,272.55 L194.37,272.56 L195.10,272.64 L195.87,272.79 L196.69,273.04 L197.57,273.41 L198.50,273.92 L199.49,274.57 M232.36,302.62 L233.06,302.61 L233.75,302.57 L234.40,302.49 L235.04,302.38 L235.64,302.22 L236.22,302.02 L236.77,301.77 L237.30,301.46 L237.80,301.10 L238.27,300.69 L238.73,300.25 L239.17,299.77 L239.60,299.27 L240.02,298.76 L240.44,298.26 L240.87,297.78 L241.30,297.32 L241.74,296.90 L242.20,296.51 L242.67,296.18 L243.16,295.88 L243.67,295.63 L244.20,295.42 L244.74,295.23 L245.29,295.07 L245.86,294.93 L246.43,294.80 L247.02,294.68 L247.62,294.58 L248.24,294.48 L248.88,294.41 L249.53,294.37 L250.22,294.39 L250.94,294.47 L251.71,294.64 L252.51,294.91 L253.37,295.32 L254.29,295.86 L255.27,296.56 M285.84,323.84 L286.52,323.83 L287.17,323.80 L287.81,323.73 L288.43,323.63 L289.02,323.49 L289.60,323.31 L290.15,323.08 L290.67,322.79 L291.18,322.46 L291.66,322.08 L292.13,321.66 L292.58,321.21 L293.02,320.74 L293.46,320.25 L293.89,319.76 L294.33,319.29 L294.78,318.85 L295.24,318.43 L295.72,318.06 L296.21,317.73 L296.72,317.45 L297.25,317.21 L297.80,317.01 L298.37,316.84 L298.95,316.70 L299.54,316.58 L300.15,316.47 L300.77,316.38 L301.40,316.29 L302.05,316.22 L302.71,316.16 L303.39,316.13 L304.10,316.15 L304.84,316.22 L305.62,316.37 L306.44,316.61 L307.30,316.97 L308.23,317.47 L309.21,318.11 M341.34,346.44 L342.04,346.43 L342.72,346.39 L343.38,346.32 L344.02,346.22 L344.64,346.07 L345.23,345.88 L345.80,345.63 L346.34,345.34 L346.86,344.99 L347.35,344.59 L347.83,344.15 L348.30,343.68 L348.75,343.19 L349.20,342.69 L349.65,342.19 L350.10,341.70 L350.56,341.24 L351.03,340.82 L351.52,340.44 L352.03,340.10 L352.56,339.81 L353.10,339.57 L353.67,339.36 L354.25,339.18 L354.84,339.03 L355.45,338.90 L356.07,338.78 L356.70,338.67 L357.35,338.57 L358.01,338.48 L358.69,338.42 L359.39,338.38 L360.12,338.40 L360.88,338.47 L361.68,338.64 L362.53,338.91 L363.43,339.30 L364.39,339.84 L365.41,340.53 M397.66,368.45 L398.41,368.44 L399.15,368.41 L399.86,368.34 L400.55,368.24 L401.23,368.11 L401.88,367.93 L402.50,367.70 L403.11,367.42 L403.69,367.08 L404.24,366.70 L404.78,366.28 L405.31,365.82 L405.82,365.33 L406.33,364.84 L406.83,364.34 L407.34,363.85 L407.86,363.39 L408.38,362.97 L408.92,362.58 L409.48,362.24 L410.06,361.95 L410.65,361.70 L411.26,361.50 L411.89,361.33 L412.53,361.18 L413.18,361.06 L413.84,360.95 L414.52,360.86 L415.20,360.77 L415.89,360.70 L416.60,360.64 L417.33,360.61 L418.08,360.62 L418.86,360.69 L419.68,360.84 L420.53,361.09 L421.43,361.46 L422.39,361.97 L423.41,362.63 M456.72,391.84 L457.34,391.83 L457.94,391.79 L458.53,391.74 L459.10,391.65 L459.65,391.54 L460.19,391.39 L460.70,391.20 L461.20,390.97 L461.68,390.70 L462.15,390.39 L462.60,390.06 L463.04,389.69 L463.47,389.30 L463.89,388.90 L464.31,388.50 L464.73,388.10 L465.15,387.71 L465.58,387.35 L466.02,387.01 L466.47,386.70 L466.93,386.43 L467.41,386.20 L467.91,386.01 L468.42,385.86 L468.94,385.74 L469.48,385.64 L470.03,385.58 L470.59,385.53 L471.16,385.50 L471.74,385.48 L472.33,385.47 L472.93,385.48 L473.54,385.49 L474.16,385.52 L474.80,385.58 L475.46,385.67 L476.14,385.80 L476.85,385.99 L477.59,386.25 M516.48,420.88 L517.20,420.86 L517.91,420.81 L518.60,420.71 L519.27,420.57 L519.91,420.39 L520.54,420.15 L521.14,419.85 L521.72,419.51 L522.28,419.11 L522.82,418.67 L523.34,418.20 L523.86,417.70 L524.37,417.19 L524.88,416.68 L525.38,416.18 L525.90,415.70 L526.42,415.25 L526.96,414.84 L527.51,414.47 L528.08,414.14 L528.66,413.86 L529.25,413.61 L529.86,413.41 L530.48,413.23 L531.12,413.08 L531.76,412.95 L532.41,412.83 L533.06,412.72 L533.73,412.63 L534.40,412.55 L535.09,412.50 L535.79,412.48 L536.51,412.51 L537.26,412.60 L538.05,412.78 L538.87,413.05 L539.73,413.44 L540.64,413.96 L541.61,414.63 M575.59,445.67 L576.38,445.65 L577.15,445.61 L577.91,445.52 L578.66,445.39 L579.38,445.21 L580.09,444.98 L580.77,444.68 L581.44,444.34 L582.08,443.93 L582.71,443.48 L583.32,442.99 L583.92,442.47 L584.52,441.93 L585.11,441.38 L585.71,440.84 L586.31,440.32 L586.93,439.83 L587.56,439.39 L588.20,438.98 L588.86,438.63 L589.54,438.32 L590.23,438.05 L590.94,437.82 L591.66,437.63 L592.39,437.45 L593.13,437.29 L593.87,437.15 L594.62,437.01 L595.38,436.89 L596.14,436.78 L596.92,436.70 L597.72,436.66 L598.53,436.68 L599.38,436.78 L600.26,436.97 L601.18,437.28 L602.15,437.73 L603.18,438.33 L604.27,439.11 M636.97,468.22 L637.75,468.21 L638.51,468.17 L639.26,468.11 L639.99,468.01 L640.71,467.87 L641.41,467.69 L642.10,467.46 L642.76,467.17 L643.40,466.84 L644.02,466.45 L644.63,466.02 L645.22,465.56 L645.81,465.06 L646.38,464.56 L646.96,464.04 L647.54,463.54 L648.12,463.06 L648.72,462.62 L649.33,462.21 L649.96,461.85 L650.60,461.54 L651.26,461.28 L651.94,461.06 L652.64,460.88 L653.34,460.74 L654.06,460.62 L654.79,460.52 L655.53,460.44 L656.27,460.37 L657.02,460.31 L657.78,460.26 L658.55,460.25 L659.34,460.26 L660.14,460.33 L660.98,460.46 L661.85,460.68 L662.76,461.01 L663.71,461.47 L664.72,462.07 M700.50,494.28 L701.31,494.27 L702.10,494.22 L702.88,494.14 L703.64,494.02 L704.38,493.85 L705.10,493.63 L705.81,493.36 L706.49,493.03 L707.15,492.65 L707.80,492.22 L708.43,491.74 L709.05,491.23 L709.65,490.69 L710.26,490.15 L710.86,489.61 L711.47,489.08 L712.09,488.58 L712.72,488.12 L713.36,487.70 L714.02,487.33 L714.70,487.01 L715.40,486.73 L716.11,486.50 L716.83,486.31 L717.57,486.14 L718.31,486.00 L719.06,485.88 L719.82,485.77 L720.59,485.68 L721.36,485.60 L722.14,485.55 L722.93,485.52 L723.75,485.54 L724.58,485.62 L725.44,485.78 L726.35,486.05 L727.29,486.44 L728.28,486.96 L729.33,487.65 M765.88,520.47 L766.63,520.46 L767.36,520.41 L768.08,520.32 L768.78,520.20 L769.46,520.02 L770.13,519.80 L770.77,519.53 L771.40,519.21 L772.01,518.84 L772.61,518.43 L773.19,517.99 L773.77,517.53 L774.33,517.05 L774.90,516.57 L775.47,516.11 L776.04,515.66 L776.62,515.24 L777.22,514.86 L777.82,514.52 L778.44,514.23 L779.08,513.98 L779.72,513.76 L780.38,513.59 L781.05,513.45 L781.73,513.33 L782.41,513.23 L783.10,513.15 L783.79,513.08 L784.49,513.02 L785.19,512.97 L785.89,512.94 L786.62,512.93 L787.40,512.96 L788.19,513.04 L789.01,513.18 L789.86,513.40 L790.74,513.73 L791.67,514.17 L792.63,514.75" fill="none" stroke="#8e8f89" stroke-width="1.4" stroke-linecap="round"/>
<path d="M137.37,251.98 L137.60,251.91 L137.82,251.85 L138.05,251.79 L138.28,251.73 L138.51,251.68 L138.75,251.63 L138.98,251.58 L139.21,251.53 L139.44,251.48 L139.68,251.44 L139.91,251.40 L140.15,251.35 L140.38,251.31 L140.62,251.27 L140.85,251.24 L141.09,251.20 L141.33,251.17 L141.57,251.14 L141.81,251.11 L142.05,251.09 L142.29,251.07 L142.54,251.06 L142.79,251.05 L143.06,251.06 L143.36,251.08 L143.66,251.12 L143.97,251.16 L144.28,251.21 L144.60,251.28 M188.63,274.03 L188.82,273.96 L189.02,273.90 L189.21,273.84 L189.41,273.79 L189.61,273.73 L189.82,273.68 L190.03,273.64 L190.23,273.59 L190.45,273.55 L190.66,273.50 L190.87,273.46 L191.09,273.42 L191.31,273.39 L191.54,273.35 L191.76,273.32 L191.99,273.28 L192.22,273.25 L192.45,273.23 L192.69,273.20 L192.93,273.18 L193.17,273.16 L193.42,273.15 L193.67,273.15 L193.93,273.15 L194.19,273.15 L194.46,273.17 L194.73,273.19 L195.00,273.22 L195.29,273.27 M244.48,295.92 L244.69,295.85 L244.89,295.79 L245.09,295.73 L245.30,295.67 L245.51,295.62 L245.72,295.57 L245.93,295.51 L246.15,295.47 L246.36,295.42 L246.58,295.37 L246.80,295.33 L247.01,295.29 L247.24,295.24 L247.46,295.20 L247.69,295.17 L247.91,295.13 L248.14,295.10 L248.37,295.06 L248.61,295.04 L248.85,295.01 L249.09,294.99 L249.33,294.98 L249.58,294.97 L249.83,294.97 L250.09,294.98 L250.35,295.00 L250.61,295.02 L250.89,295.06 L251.16,295.11 M298.04,317.53 L298.25,317.47 L298.46,317.41 L298.68,317.36 L298.90,317.31 L299.12,317.26 L299.34,317.22 L299.57,317.18 L299.79,317.13 L300.02,317.10 L300.25,317.06 L300.48,317.02 L300.71,316.99 L300.94,316.95 L301.18,316.92 L301.42,316.89 L301.66,316.86 L301.90,316.83 L302.14,316.81 L302.39,316.79 L302.64,316.77 L302.89,316.75 L303.14,316.74 L303.40,316.73 L303.66,316.73 L303.93,316.74 L304.20,316.75 L304.47,316.78 L304.75,316.81 L305.04,316.85 M353.98,339.86 L354.20,339.80 L354.42,339.74 L354.64,339.68 L354.86,339.63 L355.09,339.58 L355.31,339.53 L355.54,339.48 L355.77,339.44 L356.00,339.39 L356.23,339.35 L356.47,339.31 L356.70,339.27 L356.94,339.23 L357.18,339.20 L357.42,339.16 L357.66,339.13 L357.91,339.10 L358.16,339.07 L358.41,339.04 L358.66,339.02 L358.92,339.00 L359.18,338.99 L359.44,338.98 L359.71,338.98 L359.98,338.99 L360.25,339.00 L360.54,339.03 L360.82,339.07 L361.11,339.11 M411.57,362.01 L411.81,361.95 L412.04,361.89 L412.28,361.83 L412.52,361.78 L412.76,361.74 L413.00,361.69 L413.25,361.65 L413.49,361.61 L413.74,361.57 L413.99,361.53 L414.24,361.50 L414.49,361.46 L414.74,361.43 L415.00,361.40 L415.25,361.36 L415.51,361.33 L415.77,361.31 L416.03,361.28 L416.29,361.26 L416.56,361.24 L416.83,361.22 L417.10,361.21 L417.37,361.21 L417.65,361.21 L417.93,361.21 L418.21,361.23 L418.50,361.25 L418.79,361.28 L419.09,361.32 M467.08,386.96 L467.28,386.86 L467.49,386.77 L467.70,386.69 L467.91,386.61 L468.12,386.54 L468.34,386.48 L468.56,386.42 L468.78,386.37 L469.01,386.32 L469.24,386.28 L469.46,386.25 L469.70,386.21 L469.93,386.19 L470.17,386.16 L470.40,386.14 L470.64,386.13 L470.88,386.11 L471.13,386.10 L471.37,386.09 L471.62,386.08 L471.87,386.08 L472.12,386.08 L472.37,386.07 L472.62,386.07 L472.88,386.07 L473.14,386.08 L473.40,386.09 L473.66,386.09 L473.92,386.11 M529.74,414.05 L529.97,413.97 L530.22,413.90 L530.46,413.84 L530.70,413.78 L530.95,413.72 L531.20,413.66 L531.45,413.61 L531.70,413.56 L531.95,413.51 L532.20,413.47 L532.45,413.42 L532.71,413.38 L532.96,413.34 L533.22,413.30 L533.48,413.26 L533.74,413.23 L534.00,413.20 L534.26,413.17 L534.52,413.14 L534.79,413.12 L535.06,413.10 L535.33,413.09 L535.60,413.08 L535.88,413.08 L536.16,413.09 L536.44,413.11 L536.73,413.13 L537.02,413.16 L537.32,413.21 M591.26,438.33 L591.53,438.26 L591.80,438.19 L592.07,438.13 L592.34,438.06 L592.62,438.00 L592.89,437.94 L593.17,437.89 L593.44,437.83 L593.72,437.78 L594.00,437.72 L594.28,437.67 L594.56,437.62 L594.84,437.58 L595.13,437.53 L595.41,437.49 L595.69,437.44 L595.98,437.40 L596.27,437.37 L596.56,437.34 L596.85,437.31 L597.14,437.29 L597.44,437.27 L597.74,437.26 L598.04,437.26 L598.34,437.27 L598.65,437.29 L598.97,437.32 L599.28,437.36 L599.61,437.42 M652.07,461.63 L652.33,461.56 L652.59,461.49 L652.86,461.43 L653.13,461.38 L653.40,461.33 L653.67,461.28 L653.94,461.24 L654.22,461.20 L654.49,461.16 L654.77,461.13 L655.05,461.09 L655.33,461.06 L655.61,461.03 L655.89,461.00 L656.17,460.98 L656.46,460.95 L656.74,460.93 L657.03,460.91 L657.31,460.89 L657.60,460.87 L657.89,460.86 L658.18,460.85 L658.48,460.85 L658.77,460.85 L659.07,460.85 L659.37,460.86 L659.68,460.88 L659.98,460.91 L660.30,460.95 M716.23,487.06 L716.50,486.99 L716.78,486.92 L717.06,486.85 L717.34,486.79 L717.62,486.73 L717.90,486.68 L718.18,486.63 L718.47,486.58 L718.75,486.53 L719.04,486.49 L719.33,486.44 L719.61,486.40 L719.90,486.36 L720.19,486.33 L720.48,486.29 L720.78,486.26 L721.07,486.23 L721.36,486.20 L721.66,486.18 L721.95,486.16 L722.25,486.14 L722.55,486.13 L722.86,486.12 L723.16,486.12 L723.47,486.13 L723.78,486.14 L724.10,486.17 L724.41,486.20 L724.74,486.24 M779.93,514.31 L780.19,514.24 L780.46,514.17 L780.73,514.11 L780.99,514.06 L781.26,514.01 L781.54,513.96 L781.81,513.92 L782.08,513.88 L782.36,513.84 L782.63,513.81 L782.91,513.77 L783.18,513.74 L783.46,513.71 L783.74,513.69 L784.01,513.66 L784.29,513.64 L784.57,513.61 L784.85,513.59 L785.13,513.58 L785.41,513.56 L785.69,513.55 L785.98,513.54 L786.26,513.53 L786.55,513.53 L786.86,513.54 L787.18,513.55 L787.49,513.57 L787.81,513.59 L788.13,513.63" fill="none" stroke="#7a7a74" stroke-width="1.3" stroke-linecap="round"/>

<g stroke="#111" stroke-width="2.3" stroke-linecap="round">
<line x1="90" y1="148" x2="440.5" y2="148"/>
<line x1="110" y1="268.8" x2="212" y2="268.8"/>
<line x1="253.3" y1="282.5" x2="253.3" y2="349"/>
<line x1="311" y1="295" x2="311" y2="516"/>
<line x1="384" y1="327" x2="384" y2="397"/>
<line x1="490.8" y1="376.8" x2="490.8" y2="478"/>
<line x1="592.6" y1="440" x2="592.6" y2="477"/>
<line x1="686.6" y1="442.8" x2="686.6" y2="539"/>
</g>


<!-- tape measure -->
<circle cx="68.1" cy="146.4" r="22.5" fill="#1e2250"/>
<g fill="none" stroke="#f4f4f6" stroke-width="1.4" stroke-linecap="round">
 <ellipse cx="67.9" cy="142.1" rx="14.6" ry="5.1"/>
 <path d="M53.3,142.1 V149.9 A14.6,5.1 0 0 0 82.5,149.9 V141.5"/>
 <path d="M61.5,146.6 V142.6 A3.3,2.4 0 0 1 68.1,142.6 V146.6"/>
 <path d="M61.5,143.2 A3.3,1.3 0 0 0 68.1,143.2"/>
</g>
<g stroke="#f4f4f6" stroke-width="0.8">
 <path d="M56.5,150.3 v1.5 M59.5,151 v1.5 M62.5,151.5 v1.5 M65.5,151.8 v1.5 M68.5,151.8 v1.5 M71.5,151.6 v1.5 M74.5,151.2 v1.5 M77.5,150.6 v1.5 M80.3,149.8 v1.5"/>
</g>
<!-- brush -->
<circle cx="87.7" cy="267.9" r="22.5" fill="#1e2250"/>
<g fill="#fff">
 <path d="M82.25,250.7 L98.5,253.15 L96,265.2 L81.1,263.2 Z"/>
 <path d="M81.1,263.6 L96,265.6 L95.3,267.3 L91,268.2 Q90,273 89.8,277 Q89.6,282 88.6,285.5 Q87.5,288.3 85,287.8 Q82.4,287.2 82.6,284.2 Q83.2,279.5 85.2,275.5 Q86.2,271.5 86.6,267.6 L81.4,265.6 Z"/>
</g>
<g stroke="#1e2250" stroke-width="0.6">
 <path d="M82.2,259.6 L96.6,261.8 M82,262 L96.2,264.2"/>
</g>
<ellipse cx="85.4" cy="284" rx="0.9" ry="1.2" fill="#1e2250"/>
<!-- swatch -->
<circle cx="251.7" cy="371" r="23" fill="#1e2250"/>
<g fill="none" stroke="#e8e8ee" stroke-width="1.3" stroke-linejoin="round" stroke-linecap="round">
 <rect x="240.05" y="356.9" width="8.4" height="27.5" rx="1.6"/>
 <circle cx="244.1" cy="379.4" r="1.6"/>
 <path d="M249.3,359.9 L251.6,358.6 Q252.8,358 253.8,358.7 L257.9,361.8 Q258.9,362.7 258.3,363.8 L249.2,379.2"/>
 <path d="M257.1,366.2 L259.9,364.8 Q261,364.4 261.8,365.3 L265.1,370.2 Q265.6,371.2 264.7,371.9 L249.2,381"/>
 <path d="M263,375.2 L265.5,375.2 Q267,375.2 267,376.7 L267,382.6 Q267,384.1 265.5,384.1 L249.2,384.1"/>
</g>
<!-- flashing -->
<circle cx="383.5" cy="418.7" r="22.7" fill="#1e2250"/>
<path d="M364,422.3 L364.6,423 L381.25,414.5 L381.25,411.2 L392.8,401.3 L378.2,410 Z" fill="#b4b5b9"/>
<path d="M381.25,411.2 L392.8,401.3 L403.25,422.2 L392,430.45 L381.25,414.5 Z" fill="#fdfdfd"/>
<path d="M379,410.6 L392.8,401.3" stroke="#d4d4d6" stroke-width="0.9"/>
<!-- pitch -->
<circle cx="309.9" cy="538.3" r="22.8" fill="#1e2250"/>
<g fill="none" stroke="#f0f0f4" stroke-width="1.3" stroke-linecap="round" stroke-linejoin="round">
 <path d="M325.2,548 H295.8 L311.7,521.2"/>
 <path d="M301.4,538.6 A11,11 0 0 1 306.6,548"/>
 <path d="M311.5,527.2 A26,26 0 0 1 321.8,544.6"/>
 <path d="M314.3,526.5 L311.2,526.8 L312,529.8"/>
 <path d="M319.3,543.5 L321.8,545.3 L323.7,542.6"/>
</g>
<!-- thickness -->
<circle cx="489.1" cy="500.2" r="23" fill="#1e2250"/>
<g fill="none" stroke="#fff" stroke-width="1.2">
 <path d="M484.7,489.5 V511.4 M487.8,489.5 V511.4 M490.9,489.5 V511.4 M493.9,489.5 V511.4"/>
 <path d="M468.6,500.4 H481.5 M478,497 L481.7,500.4 L478,503.8"/>
 <path d="M509.7,500.4 H496.8 M500.3,497 L496.6,500.4 L500.3,503.8"/>
</g>
<!-- drip -->
<circle cx="591.25" cy="499.4" r="23" fill="#1e2250"/>
<g fill="none" stroke="#f2f2f4" stroke-linecap="round" stroke-linejoin="round">
 <path d="M591.2,485.3 L582.84,500.98 A9.5,9.5 0 1 0 599.56,500.98 Z" stroke-width="1.5"/>
 <path d="M584.63,503.74 A6.8,6.8 0 0 0 589.44,512.07" stroke-width="1.7"/>
</g>
<!-- house -->
<circle cx="685.2" cy="564.3" r="26.4" fill="#1e2250"/>
<path d="M670.1,561.9 L685.4,549.7 L700.3,561.9 V580.7 H670.1 Z" fill="#fff"/>
<path d="M666.2,561.1 L685.4,546.2 L703.8,561.1" fill="none" stroke="#fff" stroke-width="2.2"/>

<g font-family="Liberation Sans, sans-serif" font-size="16" fill="#262626">
<text x="44.60" y="194.00" textLength="130.40" lengthAdjust="spacingAndGlyphs">Available in cut</text>
<text x="45.60" y="213.60" textLength="111.40" lengthAdjust="spacingAndGlyphs">lengths of up</text>
<text x="45.00" y="235.00" textLength="50.00" lengthAdjust="spacingAndGlyphs">to 6m</text>
<text x="67.00" y="311.00" textLength="107.40" lengthAdjust="spacingAndGlyphs">PVC Plastisol</text>
<text x="66.60" y="331.40" textLength="65.40" lengthAdjust="spacingAndGlyphs">Coating</text>
<text x="225.25" y="416.00" textLength="80.75" lengthAdjust="spacingAndGlyphs">11 Colours</text>
<text x="225.25" y="436.70" textLength="76.75" lengthAdjust="spacingAndGlyphs">Available</text>
<text x="356.50" y="462.25" textLength="79.50" lengthAdjust="spacingAndGlyphs">Matching</text>
<text x="356.75" y="481.90" textLength="78.25" lengthAdjust="spacingAndGlyphs">Flashings</text>
<text x="355.50" y="502.50" textLength="77.00" lengthAdjust="spacingAndGlyphs">Available</text>
<text x="283.00" y="586.20" textLength="132.25" lengthAdjust="spacingAndGlyphs">Minimum Pitch</text>
<text x="282.40" y="606.60" textLength="90.50" lengthAdjust="spacingAndGlyphs">10 degrees</text>
<text x="462.50" y="547.50" textLength="61.00" lengthAdjust="spacingAndGlyphs">0.7mm</text>
<text x="462.50" y="568.10" textLength="81.90" lengthAdjust="spacingAndGlyphs">Thickness</text>
<text x="565.00" y="546.00" textLength="72.50" lengthAdjust="spacingAndGlyphs">Dripstop</text>
<text x="564.00" y="566.90" textLength="77.25" lengthAdjust="spacingAndGlyphs">Available</text>
<text x="658.40" y="614.50" textLength="106.60" lengthAdjust="spacingAndGlyphs">Roof Or Side</text>
<text x="658.40" y="634.80" textLength="76.90" lengthAdjust="spacingAndGlyphs">Cladding</text>
<text x="658.00" y="655.50" textLength="98.40" lengthAdjust="spacingAndGlyphs">Application</text>
</g>
</svg>
</body></html>
